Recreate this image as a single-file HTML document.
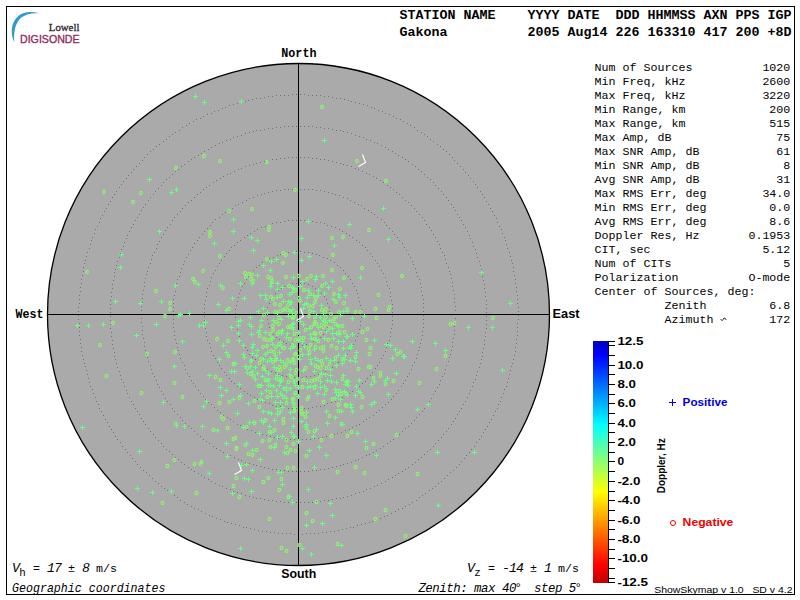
<!DOCTYPE html>
<html><head><meta charset="utf-8"><style>
html,body{margin:0;padding:0;background:#fff;overflow:hidden;}
text{white-space:pre;}
svg{display:block;}
.m{font-family:"Liberation Mono",monospace;}
.s{font-family:"Liberation Sans",sans-serif;}
.sf{font-family:"Liberation Serif",serif;}
</style></head><body>
<svg width="800" height="600" viewBox="0 0 800 600">
<rect x="0" y="0" width="800" height="600" fill="#fff"/>
<rect x="6.5" y="6.5" width="788" height="588" fill="none" stroke="#000" stroke-width="1"/>

<circle cx="298.5" cy="314.5" r="251.0" fill="#aaaaaa"/>
<path d="M300,283h1v1h-1zM304,283h1v1h-1zM308,284h1v1h-1zM312,286h1v1h-1zM315,288h1v1h-1zM318,290h1v1h-1zM321,293h1v1h-1zM324,296h1v1h-1zM326,299h1v1h-1zM327,303h1v1h-1zM329,307h1v1h-1zM329,311h1v1h-1zM329,315h1v1h-1zM329,319h1v1h-1zM328,323h1v1h-1zM327,327h1v1h-1zM325,330h1v1h-1zM323,334h1v1h-1zM320,337h1v1h-1zM317,339h1v1h-1zM313,341h1v1h-1zM310,343h1v1h-1zM306,344h1v1h-1zM302,345h1v1h-1zM298,345h1v1h-1zM294,345h1v1h-1zM290,344h1v1h-1zM286,343h1v1h-1zM283,341h1v1h-1zM279,339h1v1h-1zM276,337h1v1h-1zM273,334h1v1h-1zM271,330h1v1h-1zM269,327h1v1h-1zM268,323h1v1h-1zM267,319h1v1h-1zM267,315h1v1h-1zM267,311h1v1h-1zM267,307h1v1h-1zM269,303h1v1h-1zM270,299h1v1h-1zM272,296h1v1h-1zM275,293h1v1h-1zM278,290h1v1h-1zM281,288h1v1h-1zM284,286h1v1h-1zM288,284h1v1h-1zM292,283h1v1h-1zM296,283h1v1h-1zM300,251h1v1h-1zM304,252h1v1h-1zM308,252h1v1h-1zM312,253h1v1h-1zM316,254h1v1h-1zM319,255h1v1h-1zM323,257h1v1h-1zM327,258h1v1h-1zM330,260h1v1h-1zM334,262h1v1h-1zM337,265h1v1h-1zM340,267h1v1h-1zM343,270h1v1h-1zM345,273h1v1h-1zM348,276h1v1h-1zM350,279h1v1h-1zM352,283h1v1h-1zM354,286h1v1h-1zM356,290h1v1h-1zM357,293h1v1h-1zM358,297h1v1h-1zM359,301h1v1h-1zM360,305h1v1h-1zM361,309h1v1h-1zM361,313h1v1h-1zM361,317h1v1h-1zM360,321h1v1h-1zM360,325h1v1h-1zM359,329h1v1h-1zM358,333h1v1h-1zM357,336h1v1h-1zM355,340h1v1h-1zM353,344h1v1h-1zM351,347h1v1h-1zM349,350h1v1h-1zM347,354h1v1h-1zM344,357h1v1h-1zM341,359h1v1h-1zM338,362h1v1h-1zM335,365h1v1h-1zM332,367h1v1h-1zM329,369h1v1h-1zM325,371h1v1h-1zM321,372h1v1h-1zM318,374h1v1h-1zM314,375h1v1h-1zM310,376h1v1h-1zM306,376h1v1h-1zM302,377h1v1h-1zM298,377h1v1h-1zM294,377h1v1h-1zM290,376h1v1h-1zM286,376h1v1h-1zM282,375h1v1h-1zM278,374h1v1h-1zM275,372h1v1h-1zM271,371h1v1h-1zM267,369h1v1h-1zM264,367h1v1h-1zM261,365h1v1h-1zM258,362h1v1h-1zM255,359h1v1h-1zM252,357h1v1h-1zM249,354h1v1h-1zM247,350h1v1h-1zM245,347h1v1h-1zM243,344h1v1h-1zM241,340h1v1h-1zM239,336h1v1h-1zM238,333h1v1h-1zM237,329h1v1h-1zM236,325h1v1h-1zM236,321h1v1h-1zM235,317h1v1h-1zM235,313h1v1h-1zM235,309h1v1h-1zM236,305h1v1h-1zM237,301h1v1h-1zM238,297h1v1h-1zM239,293h1v1h-1zM240,290h1v1h-1zM242,286h1v1h-1zM244,283h1v1h-1zM246,279h1v1h-1zM248,276h1v1h-1zM251,273h1v1h-1zM253,270h1v1h-1zM256,267h1v1h-1zM259,265h1v1h-1zM262,262h1v1h-1zM266,260h1v1h-1zM269,258h1v1h-1zM273,257h1v1h-1zM277,255h1v1h-1zM280,254h1v1h-1zM284,253h1v1h-1zM288,252h1v1h-1zM292,252h1v1h-1zM296,251h1v1h-1zM300,220h1v1h-1zM304,220h1v1h-1zM308,220h1v1h-1zM312,221h1v1h-1zM316,222h1v1h-1zM320,222h1v1h-1zM324,223h1v1h-1zM327,225h1v1h-1zM331,226h1v1h-1zM335,227h1v1h-1zM339,229h1v1h-1zM342,231h1v1h-1zM346,233h1v1h-1zM349,235h1v1h-1zM352,237h1v1h-1zM356,240h1v1h-1zM359,242h1v1h-1zM362,245h1v1h-1zM365,247h1v1h-1zM367,250h1v1h-1zM370,253h1v1h-1zM372,256h1v1h-1zM375,260h1v1h-1zM377,263h1v1h-1zM379,266h1v1h-1zM381,270h1v1h-1zM383,273h1v1h-1zM385,277h1v1h-1zM386,281h1v1h-1zM387,285h1v1h-1zM389,288h1v1h-1zM390,292h1v1h-1zM390,296h1v1h-1zM391,300h1v1h-1zM392,304h1v1h-1zM392,308h1v1h-1zM392,312h1v1h-1zM392,316h1v1h-1zM392,320h1v1h-1zM392,324h1v1h-1zM391,328h1v1h-1zM390,332h1v1h-1zM390,336h1v1h-1zM389,340h1v1h-1zM387,343h1v1h-1zM386,347h1v1h-1zM385,351h1v1h-1zM383,355h1v1h-1zM381,358h1v1h-1zM379,362h1v1h-1zM377,365h1v1h-1zM375,368h1v1h-1zM372,372h1v1h-1zM370,375h1v1h-1zM367,378h1v1h-1zM365,381h1v1h-1zM362,383h1v1h-1zM359,386h1v1h-1zM356,388h1v1h-1zM352,391h1v1h-1zM349,393h1v1h-1zM346,395h1v1h-1zM342,397h1v1h-1zM339,399h1v1h-1zM335,401h1v1h-1zM331,402h1v1h-1zM327,403h1v1h-1zM324,405h1v1h-1zM320,406h1v1h-1zM316,406h1v1h-1zM312,407h1v1h-1zM308,408h1v1h-1zM304,408h1v1h-1zM300,408h1v1h-1zM296,408h1v1h-1zM292,408h1v1h-1zM288,408h1v1h-1zM284,407h1v1h-1zM280,406h1v1h-1zM276,406h1v1h-1zM272,405h1v1h-1zM269,403h1v1h-1zM265,402h1v1h-1zM261,401h1v1h-1zM257,399h1v1h-1zM254,397h1v1h-1zM250,395h1v1h-1zM247,393h1v1h-1zM244,391h1v1h-1zM240,388h1v1h-1zM237,386h1v1h-1zM234,383h1v1h-1zM231,381h1v1h-1zM229,378h1v1h-1zM226,375h1v1h-1zM224,372h1v1h-1zM221,368h1v1h-1zM219,365h1v1h-1zM217,362h1v1h-1zM215,358h1v1h-1zM213,355h1v1h-1zM211,351h1v1h-1zM210,347h1v1h-1zM209,343h1v1h-1zM207,340h1v1h-1zM206,336h1v1h-1zM206,332h1v1h-1zM205,328h1v1h-1zM204,324h1v1h-1zM204,320h1v1h-1zM204,316h1v1h-1zM204,312h1v1h-1zM204,308h1v1h-1zM204,304h1v1h-1zM205,300h1v1h-1zM206,296h1v1h-1zM206,292h1v1h-1zM207,288h1v1h-1zM209,285h1v1h-1zM210,281h1v1h-1zM211,277h1v1h-1zM213,273h1v1h-1zM215,270h1v1h-1zM217,266h1v1h-1zM219,263h1v1h-1zM221,260h1v1h-1zM224,256h1v1h-1zM226,253h1v1h-1zM229,250h1v1h-1zM231,247h1v1h-1zM234,245h1v1h-1zM237,242h1v1h-1zM240,240h1v1h-1zM244,237h1v1h-1zM247,235h1v1h-1zM250,233h1v1h-1zM254,231h1v1h-1zM257,229h1v1h-1zM261,227h1v1h-1zM265,226h1v1h-1zM269,225h1v1h-1zM272,223h1v1h-1zM276,222h1v1h-1zM280,222h1v1h-1zM284,221h1v1h-1zM288,220h1v1h-1zM292,220h1v1h-1zM296,220h1v1h-1zM300,189h1v1h-1zM304,189h1v1h-1zM308,189h1v1h-1zM312,189h1v1h-1zM316,190h1v1h-1zM320,190h1v1h-1zM324,191h1v1h-1zM328,192h1v1h-1zM332,193h1v1h-1zM335,194h1v1h-1zM339,195h1v1h-1zM343,197h1v1h-1zM347,198h1v1h-1zM350,200h1v1h-1zM354,202h1v1h-1zM358,204h1v1h-1zM361,205h1v1h-1zM364,208h1v1h-1zM368,210h1v1h-1zM371,212h1v1h-1zM374,214h1v1h-1zM377,217h1v1h-1zM381,219h1v1h-1zM384,222h1v1h-1zM386,225h1v1h-1zM389,228h1v1h-1zM392,231h1v1h-1zM394,234h1v1h-1zM397,237h1v1h-1zM399,240h1v1h-1zM402,243h1v1h-1zM404,247h1v1h-1zM406,250h1v1h-1zM408,254h1v1h-1zM410,257h1v1h-1zM412,261h1v1h-1zM413,264h1v1h-1zM415,268h1v1h-1zM416,272h1v1h-1zM417,276h1v1h-1zM419,279h1v1h-1zM420,283h1v1h-1zM421,287h1v1h-1zM421,291h1v1h-1zM422,295h1v1h-1zM423,299h1v1h-1zM423,303h1v1h-1zM423,307h1v1h-1zM423,311h1v1h-1zM423,315h1v1h-1zM423,319h1v1h-1zM423,323h1v1h-1zM423,327h1v1h-1zM422,331h1v1h-1zM422,335h1v1h-1zM421,339h1v1h-1zM420,343h1v1h-1zM419,347h1v1h-1zM418,350h1v1h-1zM417,354h1v1h-1zM416,358h1v1h-1zM414,362h1v1h-1zM412,365h1v1h-1zM411,369h1v1h-1zM409,373h1v1h-1zM407,376h1v1h-1zM405,380h1v1h-1zM403,383h1v1h-1zM401,386h1v1h-1zM398,390h1v1h-1zM396,393h1v1h-1zM393,396h1v1h-1zM391,399h1v1h-1zM388,402h1v1h-1zM385,404h1v1h-1zM382,407h1v1h-1zM379,410h1v1h-1zM376,412h1v1h-1zM373,415h1v1h-1zM369,417h1v1h-1zM366,419h1v1h-1zM363,421h1v1h-1zM359,424h1v1h-1zM356,425h1v1h-1zM352,427h1v1h-1zM349,429h1v1h-1zM345,430h1v1h-1zM341,432h1v1h-1zM337,433h1v1h-1zM334,434h1v1h-1zM330,435h1v1h-1zM326,436h1v1h-1zM322,437h1v1h-1zM318,438h1v1h-1zM314,438h1v1h-1zM310,439h1v1h-1zM306,439h1v1h-1zM302,439h1v1h-1zM298,440h1v1h-1zM294,439h1v1h-1zM290,439h1v1h-1zM286,439h1v1h-1zM282,438h1v1h-1zM278,438h1v1h-1zM274,437h1v1h-1zM270,436h1v1h-1zM266,435h1v1h-1zM262,434h1v1h-1zM259,433h1v1h-1zM255,432h1v1h-1zM251,430h1v1h-1zM247,429h1v1h-1zM244,427h1v1h-1zM240,425h1v1h-1zM237,424h1v1h-1zM233,421h1v1h-1zM230,419h1v1h-1zM227,417h1v1h-1zM223,415h1v1h-1zM220,412h1v1h-1zM217,410h1v1h-1zM214,407h1v1h-1zM211,404h1v1h-1zM208,402h1v1h-1zM205,399h1v1h-1zM203,396h1v1h-1zM200,393h1v1h-1zM198,390h1v1h-1zM195,386h1v1h-1zM193,383h1v1h-1zM191,380h1v1h-1zM189,376h1v1h-1zM187,373h1v1h-1zM185,369h1v1h-1zM184,365h1v1h-1zM182,362h1v1h-1zM180,358h1v1h-1zM179,354h1v1h-1zM178,350h1v1h-1zM177,347h1v1h-1zM176,343h1v1h-1zM175,339h1v1h-1zM174,335h1v1h-1zM174,331h1v1h-1zM173,327h1v1h-1zM173,323h1v1h-1zM173,319h1v1h-1zM173,315h1v1h-1zM173,311h1v1h-1zM173,307h1v1h-1zM173,303h1v1h-1zM173,299h1v1h-1zM174,295h1v1h-1zM175,291h1v1h-1zM175,287h1v1h-1zM176,283h1v1h-1zM177,279h1v1h-1zM179,276h1v1h-1zM180,272h1v1h-1zM181,268h1v1h-1zM183,264h1v1h-1zM184,261h1v1h-1zM186,257h1v1h-1zM188,254h1v1h-1zM190,250h1v1h-1zM192,247h1v1h-1zM194,243h1v1h-1zM197,240h1v1h-1zM199,237h1v1h-1zM202,234h1v1h-1zM204,231h1v1h-1zM207,228h1v1h-1zM210,225h1v1h-1zM212,222h1v1h-1zM215,219h1v1h-1zM219,217h1v1h-1zM222,214h1v1h-1zM225,212h1v1h-1zM228,210h1v1h-1zM232,208h1v1h-1zM235,205h1v1h-1zM238,204h1v1h-1zM242,202h1v1h-1zM246,200h1v1h-1zM249,198h1v1h-1zM253,197h1v1h-1zM257,195h1v1h-1zM261,194h1v1h-1zM264,193h1v1h-1zM268,192h1v1h-1zM272,191h1v1h-1zM276,190h1v1h-1zM280,190h1v1h-1zM284,189h1v1h-1zM288,189h1v1h-1zM292,189h1v1h-1zM296,189h1v1h-1zM300,157h1v1h-1zM304,157h1v1h-1zM308,157h1v1h-1zM312,158h1v1h-1zM316,158h1v1h-1zM320,159h1v1h-1zM324,159h1v1h-1zM328,160h1v1h-1zM332,161h1v1h-1zM336,162h1v1h-1zM340,163h1v1h-1zM343,164h1v1h-1zM347,165h1v1h-1zM351,166h1v1h-1zM355,168h1v1h-1zM358,169h1v1h-1zM362,171h1v1h-1zM366,173h1v1h-1zM369,174h1v1h-1zM373,176h1v1h-1zM376,178h1v1h-1zM380,180h1v1h-1zM383,182h1v1h-1zM387,185h1v1h-1zM390,187h1v1h-1zM393,189h1v1h-1zM396,192h1v1h-1zM399,194h1v1h-1zM402,197h1v1h-1zM405,200h1v1h-1zM408,202h1v1h-1zM411,205h1v1h-1zM414,208h1v1h-1zM416,211h1v1h-1zM419,214h1v1h-1zM422,217h1v1h-1zM424,220h1v1h-1zM426,224h1v1h-1zM429,227h1v1h-1zM431,230h1v1h-1zM433,234h1v1h-1zM435,237h1v1h-1zM437,241h1v1h-1zM439,244h1v1h-1zM440,248h1v1h-1zM442,252h1v1h-1zM444,255h1v1h-1zM445,259h1v1h-1zM446,263h1v1h-1zM448,267h1v1h-1zM449,271h1v1h-1zM450,274h1v1h-1zM451,278h1v1h-1zM452,282h1v1h-1zM452,286h1v1h-1zM453,290h1v1h-1zM454,294h1v1h-1zM454,298h1v1h-1zM454,302h1v1h-1zM455,306h1v1h-1zM455,310h1v1h-1zM455,314h1v1h-1zM455,318h1v1h-1zM455,322h1v1h-1zM454,326h1v1h-1zM454,330h1v1h-1zM454,334h1v1h-1zM453,338h1v1h-1zM452,342h1v1h-1zM452,346h1v1h-1zM451,350h1v1h-1zM450,354h1v1h-1zM449,357h1v1h-1zM448,361h1v1h-1zM446,365h1v1h-1zM445,369h1v1h-1zM444,373h1v1h-1zM442,376h1v1h-1zM440,380h1v1h-1zM439,384h1v1h-1zM437,387h1v1h-1zM435,391h1v1h-1zM433,394h1v1h-1zM431,398h1v1h-1zM429,401h1v1h-1zM426,404h1v1h-1zM424,408h1v1h-1zM422,411h1v1h-1zM419,414h1v1h-1zM416,417h1v1h-1zM414,420h1v1h-1zM411,423h1v1h-1zM408,426h1v1h-1zM405,428h1v1h-1zM402,431h1v1h-1zM399,434h1v1h-1zM396,436h1v1h-1zM393,439h1v1h-1zM390,441h1v1h-1zM387,443h1v1h-1zM383,446h1v1h-1zM380,448h1v1h-1zM376,450h1v1h-1zM373,452h1v1h-1zM369,454h1v1h-1zM366,455h1v1h-1zM362,457h1v1h-1zM358,459h1v1h-1zM355,460h1v1h-1zM351,462h1v1h-1zM347,463h1v1h-1zM343,464h1v1h-1zM340,465h1v1h-1zM336,466h1v1h-1zM332,467h1v1h-1zM328,468h1v1h-1zM324,469h1v1h-1zM320,469h1v1h-1zM316,470h1v1h-1zM312,470h1v1h-1zM308,471h1v1h-1zM304,471h1v1h-1zM300,471h1v1h-1zM296,471h1v1h-1zM292,471h1v1h-1zM288,471h1v1h-1zM284,470h1v1h-1zM280,470h1v1h-1zM276,469h1v1h-1zM272,469h1v1h-1zM268,468h1v1h-1zM264,467h1v1h-1zM260,466h1v1h-1zM256,465h1v1h-1zM253,464h1v1h-1zM249,463h1v1h-1zM245,462h1v1h-1zM241,460h1v1h-1zM238,459h1v1h-1zM234,457h1v1h-1zM230,455h1v1h-1zM227,454h1v1h-1zM223,452h1v1h-1zM220,450h1v1h-1zM216,448h1v1h-1zM213,446h1v1h-1zM209,443h1v1h-1zM206,441h1v1h-1zM203,439h1v1h-1zM200,436h1v1h-1zM197,434h1v1h-1zM194,431h1v1h-1zM191,428h1v1h-1zM188,426h1v1h-1zM185,423h1v1h-1zM182,420h1v1h-1zM180,417h1v1h-1zM177,414h1v1h-1zM174,411h1v1h-1zM172,408h1v1h-1zM170,404h1v1h-1zM167,401h1v1h-1zM165,398h1v1h-1zM163,394h1v1h-1zM161,391h1v1h-1zM159,387h1v1h-1zM157,384h1v1h-1zM156,380h1v1h-1zM154,376h1v1h-1zM152,373h1v1h-1zM151,369h1v1h-1zM150,365h1v1h-1zM148,361h1v1h-1zM147,357h1v1h-1zM146,354h1v1h-1zM145,350h1v1h-1zM144,346h1v1h-1zM144,342h1v1h-1zM143,338h1v1h-1zM142,334h1v1h-1zM142,330h1v1h-1zM142,326h1v1h-1zM141,322h1v1h-1zM141,318h1v1h-1zM141,314h1v1h-1zM141,310h1v1h-1zM141,306h1v1h-1zM142,302h1v1h-1zM142,298h1v1h-1zM142,294h1v1h-1zM143,290h1v1h-1zM144,286h1v1h-1zM144,282h1v1h-1zM145,278h1v1h-1zM146,274h1v1h-1zM147,271h1v1h-1zM148,267h1v1h-1zM150,263h1v1h-1zM151,259h1v1h-1zM152,255h1v1h-1zM154,252h1v1h-1zM156,248h1v1h-1zM157,244h1v1h-1zM159,241h1v1h-1zM161,237h1v1h-1zM163,234h1v1h-1zM165,230h1v1h-1zM167,227h1v1h-1zM170,224h1v1h-1zM172,220h1v1h-1zM174,217h1v1h-1zM177,214h1v1h-1zM180,211h1v1h-1zM182,208h1v1h-1zM185,205h1v1h-1zM188,202h1v1h-1zM191,200h1v1h-1zM194,197h1v1h-1zM197,194h1v1h-1zM200,192h1v1h-1zM203,189h1v1h-1zM206,187h1v1h-1zM209,185h1v1h-1zM213,182h1v1h-1zM216,180h1v1h-1zM220,178h1v1h-1zM223,176h1v1h-1zM227,174h1v1h-1zM230,173h1v1h-1zM234,171h1v1h-1zM238,169h1v1h-1zM241,168h1v1h-1zM245,166h1v1h-1zM249,165h1v1h-1zM253,164h1v1h-1zM256,163h1v1h-1zM260,162h1v1h-1zM264,161h1v1h-1zM268,160h1v1h-1zM272,159h1v1h-1zM276,159h1v1h-1zM280,158h1v1h-1zM284,158h1v1h-1zM288,157h1v1h-1zM292,157h1v1h-1zM296,157h1v1h-1zM300,126h1v1h-1zM304,126h1v1h-1zM308,126h1v1h-1zM312,126h1v1h-1zM316,127h1v1h-1zM320,127h1v1h-1zM324,128h1v1h-1zM328,128h1v1h-1zM332,129h1v1h-1zM336,130h1v1h-1zM340,130h1v1h-1zM343,131h1v1h-1zM347,132h1v1h-1zM351,133h1v1h-1zM355,135h1v1h-1zM359,136h1v1h-1zM363,137h1v1h-1zM366,139h1v1h-1zM370,140h1v1h-1zM374,142h1v1h-1zM377,143h1v1h-1zM381,145h1v1h-1zM385,147h1v1h-1zM388,149h1v1h-1zM392,151h1v1h-1zM395,153h1v1h-1zM398,155h1v1h-1zM402,157h1v1h-1zM405,159h1v1h-1zM408,161h1v1h-1zM412,164h1v1h-1zM415,166h1v1h-1zM418,169h1v1h-1zM421,171h1v1h-1zM424,174h1v1h-1zM427,177h1v1h-1zM430,179h1v1h-1zM433,182h1v1h-1zM435,185h1v1h-1zM438,188h1v1h-1zM441,191h1v1h-1zM443,194h1v1h-1zM446,197h1v1h-1zM448,200h1v1h-1zM451,204h1v1h-1zM453,207h1v1h-1zM455,210h1v1h-1zM457,214h1v1h-1zM459,217h1v1h-1zM461,220h1v1h-1zM463,224h1v1h-1zM465,227h1v1h-1zM467,231h1v1h-1zM469,235h1v1h-1zM470,238h1v1h-1zM472,242h1v1h-1zM473,246h1v1h-1zM475,249h1v1h-1zM476,253h1v1h-1zM477,257h1v1h-1zM479,261h1v1h-1zM480,265h1v1h-1zM481,269h1v1h-1zM482,272h1v1h-1zM482,276h1v1h-1zM483,280h1v1h-1zM484,284h1v1h-1zM484,288h1v1h-1zM485,292h1v1h-1zM485,296h1v1h-1zM486,300h1v1h-1zM486,304h1v1h-1zM486,308h1v1h-1zM486,312h1v1h-1zM486,316h1v1h-1zM486,320h1v1h-1zM486,324h1v1h-1zM486,328h1v1h-1zM485,332h1v1h-1zM485,336h1v1h-1zM484,340h1v1h-1zM484,344h1v1h-1zM483,348h1v1h-1zM482,352h1v1h-1zM482,356h1v1h-1zM481,359h1v1h-1zM480,363h1v1h-1zM479,367h1v1h-1zM477,371h1v1h-1zM476,375h1v1h-1zM475,379h1v1h-1zM473,382h1v1h-1zM472,386h1v1h-1zM470,390h1v1h-1zM469,393h1v1h-1zM467,397h1v1h-1zM465,401h1v1h-1zM463,404h1v1h-1zM461,408h1v1h-1zM459,411h1v1h-1zM457,414h1v1h-1zM455,418h1v1h-1zM453,421h1v1h-1zM451,424h1v1h-1zM448,428h1v1h-1zM446,431h1v1h-1zM443,434h1v1h-1zM441,437h1v1h-1zM438,440h1v1h-1zM435,443h1v1h-1zM433,446h1v1h-1zM430,449h1v1h-1zM427,451h1v1h-1zM424,454h1v1h-1zM421,457h1v1h-1zM418,459h1v1h-1zM415,462h1v1h-1zM412,464h1v1h-1zM408,467h1v1h-1zM405,469h1v1h-1zM402,471h1v1h-1zM398,473h1v1h-1zM395,475h1v1h-1zM392,477h1v1h-1zM388,479h1v1h-1zM385,481h1v1h-1zM381,483h1v1h-1zM377,485h1v1h-1zM374,486h1v1h-1zM370,488h1v1h-1zM366,489h1v1h-1zM363,491h1v1h-1zM359,492h1v1h-1zM355,493h1v1h-1zM351,495h1v1h-1zM347,496h1v1h-1zM343,497h1v1h-1zM340,498h1v1h-1zM336,498h1v1h-1zM332,499h1v1h-1zM328,500h1v1h-1zM324,500h1v1h-1zM320,501h1v1h-1zM316,501h1v1h-1zM312,502h1v1h-1zM308,502h1v1h-1zM304,502h1v1h-1zM300,502h1v1h-1zM296,502h1v1h-1zM292,502h1v1h-1zM288,502h1v1h-1zM284,502h1v1h-1zM280,501h1v1h-1zM276,501h1v1h-1zM272,500h1v1h-1zM268,500h1v1h-1zM264,499h1v1h-1zM260,498h1v1h-1zM256,498h1v1h-1zM253,497h1v1h-1zM249,496h1v1h-1zM245,495h1v1h-1zM241,493h1v1h-1zM237,492h1v1h-1zM233,491h1v1h-1zM230,489h1v1h-1zM226,488h1v1h-1zM222,486h1v1h-1zM219,485h1v1h-1zM215,483h1v1h-1zM211,481h1v1h-1zM208,479h1v1h-1zM204,477h1v1h-1zM201,475h1v1h-1zM198,473h1v1h-1zM194,471h1v1h-1zM191,469h1v1h-1zM188,467h1v1h-1zM184,464h1v1h-1zM181,462h1v1h-1zM178,459h1v1h-1zM175,457h1v1h-1zM172,454h1v1h-1zM169,451h1v1h-1zM166,449h1v1h-1zM163,446h1v1h-1zM161,443h1v1h-1zM158,440h1v1h-1zM155,437h1v1h-1zM153,434h1v1h-1zM150,431h1v1h-1zM148,428h1v1h-1zM145,424h1v1h-1zM143,421h1v1h-1zM141,418h1v1h-1zM139,414h1v1h-1zM137,411h1v1h-1zM135,408h1v1h-1zM133,404h1v1h-1zM131,401h1v1h-1zM129,397h1v1h-1zM127,393h1v1h-1zM126,390h1v1h-1zM124,386h1v1h-1zM123,382h1v1h-1zM121,379h1v1h-1zM120,375h1v1h-1zM119,371h1v1h-1zM117,367h1v1h-1zM116,363h1v1h-1zM115,359h1v1h-1zM114,356h1v1h-1zM114,352h1v1h-1zM113,348h1v1h-1zM112,344h1v1h-1zM112,340h1v1h-1zM111,336h1v1h-1zM111,332h1v1h-1zM110,328h1v1h-1zM110,324h1v1h-1zM110,320h1v1h-1zM110,316h1v1h-1zM110,312h1v1h-1zM110,308h1v1h-1zM110,304h1v1h-1zM110,300h1v1h-1zM111,296h1v1h-1zM111,292h1v1h-1zM112,288h1v1h-1zM112,284h1v1h-1zM113,280h1v1h-1zM114,276h1v1h-1zM114,272h1v1h-1zM115,269h1v1h-1zM116,265h1v1h-1zM117,261h1v1h-1zM119,257h1v1h-1zM120,253h1v1h-1zM121,249h1v1h-1zM123,246h1v1h-1zM124,242h1v1h-1zM126,238h1v1h-1zM127,235h1v1h-1zM129,231h1v1h-1zM131,227h1v1h-1zM133,224h1v1h-1zM135,220h1v1h-1zM137,217h1v1h-1zM139,214h1v1h-1zM141,210h1v1h-1zM143,207h1v1h-1zM145,204h1v1h-1zM148,200h1v1h-1zM150,197h1v1h-1zM153,194h1v1h-1zM155,191h1v1h-1zM158,188h1v1h-1zM161,185h1v1h-1zM163,182h1v1h-1zM166,179h1v1h-1zM169,177h1v1h-1zM172,174h1v1h-1zM175,171h1v1h-1zM178,169h1v1h-1zM181,166h1v1h-1zM184,164h1v1h-1zM188,161h1v1h-1zM191,159h1v1h-1zM194,157h1v1h-1zM198,155h1v1h-1zM201,153h1v1h-1zM204,151h1v1h-1zM208,149h1v1h-1zM211,147h1v1h-1zM215,145h1v1h-1zM219,143h1v1h-1zM222,142h1v1h-1zM226,140h1v1h-1zM230,139h1v1h-1zM233,137h1v1h-1zM237,136h1v1h-1zM241,135h1v1h-1zM245,133h1v1h-1zM249,132h1v1h-1zM253,131h1v1h-1zM256,130h1v1h-1zM260,130h1v1h-1zM264,129h1v1h-1zM268,128h1v1h-1zM272,128h1v1h-1zM276,127h1v1h-1zM280,127h1v1h-1zM284,126h1v1h-1zM288,126h1v1h-1zM292,126h1v1h-1zM296,126h1v1h-1zM300,94h1v1h-1zM304,94h1v1h-1zM308,95h1v1h-1zM312,95h1v1h-1zM316,95h1v1h-1zM320,95h1v1h-1zM324,96h1v1h-1zM328,96h1v1h-1zM332,97h1v1h-1zM336,98h1v1h-1zM340,98h1v1h-1zM344,99h1v1h-1zM348,100h1v1h-1zM351,101h1v1h-1zM355,102h1v1h-1zM359,103h1v1h-1zM363,104h1v1h-1zM367,105h1v1h-1zM371,107h1v1h-1zM374,108h1v1h-1zM378,110h1v1h-1zM382,111h1v1h-1zM385,113h1v1h-1zM389,114h1v1h-1zM393,116h1v1h-1zM396,118h1v1h-1zM400,119h1v1h-1zM403,121h1v1h-1zM407,123h1v1h-1zM410,125h1v1h-1zM414,127h1v1h-1zM417,130h1v1h-1zM421,132h1v1h-1zM424,134h1v1h-1zM427,136h1v1h-1zM430,139h1v1h-1zM433,141h1v1h-1zM437,144h1v1h-1zM440,146h1v1h-1zM443,149h1v1h-1zM446,151h1v1h-1zM449,154h1v1h-1zM452,157h1v1h-1zM454,160h1v1h-1zM457,163h1v1h-1zM460,166h1v1h-1zM463,169h1v1h-1zM465,172h1v1h-1zM468,175h1v1h-1zM470,178h1v1h-1zM473,181h1v1h-1zM475,184h1v1h-1zM477,187h1v1h-1zM480,191h1v1h-1zM482,194h1v1h-1zM484,197h1v1h-1zM486,201h1v1h-1zM488,204h1v1h-1zM490,208h1v1h-1zM492,211h1v1h-1zM494,215h1v1h-1zM496,218h1v1h-1zM497,222h1v1h-1zM499,226h1v1h-1zM501,229h1v1h-1zM502,233h1v1h-1zM504,237h1v1h-1zM505,240h1v1h-1zM506,244h1v1h-1zM507,248h1v1h-1zM509,252h1v1h-1zM510,256h1v1h-1zM511,260h1v1h-1zM512,263h1v1h-1zM513,267h1v1h-1zM513,271h1v1h-1zM514,275h1v1h-1zM515,279h1v1h-1zM515,283h1v1h-1zM516,287h1v1h-1zM516,291h1v1h-1zM517,295h1v1h-1zM517,299h1v1h-1zM517,303h1v1h-1zM518,307h1v1h-1zM518,311h1v1h-1zM518,315h1v1h-1zM518,319h1v1h-1zM517,323h1v1h-1zM517,327h1v1h-1zM517,331h1v1h-1zM517,335h1v1h-1zM516,339h1v1h-1zM516,343h1v1h-1zM515,347h1v1h-1zM515,351h1v1h-1zM514,355h1v1h-1zM513,359h1v1h-1zM512,363h1v1h-1zM511,366h1v1h-1zM510,370h1v1h-1zM509,374h1v1h-1zM508,378h1v1h-1zM507,382h1v1h-1zM506,386h1v1h-1zM504,389h1v1h-1zM503,393h1v1h-1zM501,397h1v1h-1zM500,401h1v1h-1zM498,404h1v1h-1zM497,408h1v1h-1zM495,411h1v1h-1zM493,415h1v1h-1zM491,419h1v1h-1zM489,422h1v1h-1zM487,426h1v1h-1zM485,429h1v1h-1zM483,432h1v1h-1zM481,436h1v1h-1zM479,439h1v1h-1zM476,442h1v1h-1zM474,446h1v1h-1zM471,449h1v1h-1zM469,452h1v1h-1zM466,455h1v1h-1zM464,458h1v1h-1zM461,461h1v1h-1zM459,464h1v1h-1zM456,467h1v1h-1zM453,470h1v1h-1zM450,472h1v1h-1zM447,475h1v1h-1zM444,478h1v1h-1zM441,481h1v1h-1zM438,483h1v1h-1zM435,486h1v1h-1zM432,488h1v1h-1zM429,490h1v1h-1zM425,493h1v1h-1zM422,495h1v1h-1zM419,497h1v1h-1zM416,500h1v1h-1zM412,502h1v1h-1zM409,504h1v1h-1zM405,506h1v1h-1zM402,508h1v1h-1zM398,509h1v1h-1zM395,511h1v1h-1zM391,513h1v1h-1zM387,515h1v1h-1zM384,516h1v1h-1zM380,518h1v1h-1zM376,519h1v1h-1zM372,521h1v1h-1zM369,522h1v1h-1zM365,523h1v1h-1zM361,524h1v1h-1zM357,525h1v1h-1zM353,527h1v1h-1zM350,527h1v1h-1zM346,528h1v1h-1zM342,529h1v1h-1zM338,530h1v1h-1zM334,531h1v1h-1zM330,531h1v1h-1zM326,532h1v1h-1zM322,532h1v1h-1zM318,533h1v1h-1zM314,533h1v1h-1zM310,533h1v1h-1zM306,533h1v1h-1zM302,534h1v1h-1zM298,534h1v1h-1zM294,534h1v1h-1zM290,533h1v1h-1zM286,533h1v1h-1zM282,533h1v1h-1zM278,533h1v1h-1zM274,532h1v1h-1zM270,532h1v1h-1zM266,531h1v1h-1zM262,531h1v1h-1zM258,530h1v1h-1zM254,529h1v1h-1zM250,528h1v1h-1zM246,527h1v1h-1zM243,527h1v1h-1zM239,525h1v1h-1zM235,524h1v1h-1zM231,523h1v1h-1zM227,522h1v1h-1zM224,521h1v1h-1zM220,519h1v1h-1zM216,518h1v1h-1zM212,516h1v1h-1zM209,515h1v1h-1zM205,513h1v1h-1zM201,511h1v1h-1zM198,509h1v1h-1zM194,508h1v1h-1zM191,506h1v1h-1zM187,504h1v1h-1zM184,502h1v1h-1zM180,500h1v1h-1zM177,497h1v1h-1zM174,495h1v1h-1zM171,493h1v1h-1zM167,490h1v1h-1zM164,488h1v1h-1zM161,486h1v1h-1zM158,483h1v1h-1zM155,481h1v1h-1zM152,478h1v1h-1zM149,475h1v1h-1zM146,472h1v1h-1zM143,470h1v1h-1zM140,467h1v1h-1zM137,464h1v1h-1zM135,461h1v1h-1zM132,458h1v1h-1zM130,455h1v1h-1zM127,452h1v1h-1zM125,449h1v1h-1zM122,446h1v1h-1zM120,442h1v1h-1zM117,439h1v1h-1zM115,436h1v1h-1zM113,432h1v1h-1zM111,429h1v1h-1zM109,426h1v1h-1zM107,422h1v1h-1zM105,419h1v1h-1zM103,415h1v1h-1zM101,411h1v1h-1zM99,408h1v1h-1zM98,404h1v1h-1zM96,401h1v1h-1zM95,397h1v1h-1zM93,393h1v1h-1zM92,389h1v1h-1zM90,386h1v1h-1zM89,382h1v1h-1zM88,378h1v1h-1zM87,374h1v1h-1zM86,370h1v1h-1zM85,366h1v1h-1zM84,363h1v1h-1zM83,359h1v1h-1zM82,355h1v1h-1zM81,351h1v1h-1zM81,347h1v1h-1zM80,343h1v1h-1zM80,339h1v1h-1zM79,335h1v1h-1zM79,331h1v1h-1zM79,327h1v1h-1zM79,323h1v1h-1zM78,319h1v1h-1zM78,315h1v1h-1zM78,311h1v1h-1zM78,307h1v1h-1zM79,303h1v1h-1zM79,299h1v1h-1zM79,295h1v1h-1zM80,291h1v1h-1zM80,287h1v1h-1zM81,283h1v1h-1zM81,279h1v1h-1zM82,275h1v1h-1zM83,271h1v1h-1zM83,267h1v1h-1zM84,263h1v1h-1zM85,260h1v1h-1zM86,256h1v1h-1zM87,252h1v1h-1zM89,248h1v1h-1zM90,244h1v1h-1zM91,240h1v1h-1zM92,237h1v1h-1zM94,233h1v1h-1zM95,229h1v1h-1zM97,226h1v1h-1zM99,222h1v1h-1zM100,218h1v1h-1zM102,215h1v1h-1zM104,211h1v1h-1zM106,208h1v1h-1zM108,204h1v1h-1zM110,201h1v1h-1zM112,197h1v1h-1zM114,194h1v1h-1zM116,191h1v1h-1zM119,187h1v1h-1zM121,184h1v1h-1zM123,181h1v1h-1zM126,178h1v1h-1zM128,175h1v1h-1zM131,172h1v1h-1zM133,169h1v1h-1zM136,166h1v1h-1zM139,163h1v1h-1zM142,160h1v1h-1zM144,157h1v1h-1zM147,154h1v1h-1zM150,151h1v1h-1zM153,149h1v1h-1zM156,146h1v1h-1zM159,144h1v1h-1zM163,141h1v1h-1zM166,139h1v1h-1zM169,136h1v1h-1zM172,134h1v1h-1zM175,132h1v1h-1zM179,130h1v1h-1zM182,127h1v1h-1zM186,125h1v1h-1zM189,123h1v1h-1zM193,121h1v1h-1zM196,119h1v1h-1zM200,118h1v1h-1zM203,116h1v1h-1zM207,114h1v1h-1zM211,113h1v1h-1zM214,111h1v1h-1zM218,110h1v1h-1zM222,108h1v1h-1zM225,107h1v1h-1zM229,105h1v1h-1zM233,104h1v1h-1zM237,103h1v1h-1zM241,102h1v1h-1zM245,101h1v1h-1zM248,100h1v1h-1zM252,99h1v1h-1zM256,98h1v1h-1zM260,98h1v1h-1zM264,97h1v1h-1zM268,96h1v1h-1zM272,96h1v1h-1zM276,95h1v1h-1zM280,95h1v1h-1zM284,95h1v1h-1zM288,95h1v1h-1zM292,94h1v1h-1zM296,94h1v1h-1z" fill="#6e6e6e" shape-rendering="crispEdges"/>
<line x1="298.5" y1="63.5" x2="298.5" y2="565.5" stroke="#000" stroke-width="1"/>
<line x1="47.5" y1="314.5" x2="549.5" y2="314.5" stroke="#000" stroke-width="1"/>
<g fill="none" stroke="#8cf56e" stroke-width="1.15"><ellipse cx="322" cy="107" rx="1.35" ry="1.55" transform="rotate(25 322 107)"/><ellipse cx="204" cy="156" rx="1.35" ry="1.55" transform="rotate(25 204 156)"/><ellipse cx="220" cy="161" rx="1.35" ry="1.55" transform="rotate(25 220 161)"/><ellipse cx="176" cy="168" rx="1.35" ry="1.55" transform="rotate(25 176 168)"/><ellipse cx="104" cy="192" rx="1.35" ry="1.55" transform="rotate(25 104 192)"/><ellipse cx="141" cy="193" rx="1.35" ry="1.55" transform="rotate(25 141 193)"/><ellipse cx="133" cy="202" rx="1.35" ry="1.55" transform="rotate(25 133 202)"/><ellipse cx="229" cy="211" rx="1.35" ry="1.55" transform="rotate(25 229 211)"/><ellipse cx="267" cy="162" rx="1.35" ry="1.55" transform="rotate(25 267 162)"/><ellipse cx="357" cy="161" rx="1.35" ry="1.55" transform="rotate(25 357 161)"/><ellipse cx="386" cy="181" rx="1.35" ry="1.55" transform="rotate(25 386 181)"/><ellipse cx="295" cy="190" rx="1.35" ry="1.55" transform="rotate(25 295 190)"/><ellipse cx="252" cy="209" rx="1.35" ry="1.55" transform="rotate(25 252 209)"/><ellipse cx="87" cy="272" rx="1.35" ry="1.55" transform="rotate(25 87 272)"/><ellipse cx="193" cy="279" rx="1.35" ry="1.55" transform="rotate(25 193 279)"/><ellipse cx="195" cy="282" rx="1.35" ry="1.55" transform="rotate(25 195 282)"/><ellipse cx="210" cy="232" rx="1.35" ry="1.55" transform="rotate(25 210 232)"/><ellipse cx="210" cy="236" rx="1.35" ry="1.55" transform="rotate(25 210 236)"/><ellipse cx="269" cy="227" rx="1.35" ry="1.55" transform="rotate(25 269 227)"/><ellipse cx="269" cy="230" rx="1.35" ry="1.55" transform="rotate(25 269 230)"/><ellipse cx="220" cy="256" rx="1.35" ry="1.55" transform="rotate(25 220 256)"/><ellipse cx="203" cy="271" rx="1.35" ry="1.55" transform="rotate(25 203 271)"/><ellipse cx="283" cy="253" rx="1.35" ry="1.55" transform="rotate(25 283 253)"/><ellipse cx="286" cy="255" rx="1.35" ry="1.55" transform="rotate(25 286 255)"/><ellipse cx="267" cy="259" rx="1.35" ry="1.55" transform="rotate(25 267 259)"/><ellipse cx="283" cy="263" rx="1.35" ry="1.55" transform="rotate(25 283 263)"/><ellipse cx="245" cy="273" rx="1.35" ry="1.55" transform="rotate(25 245 273)"/><ellipse cx="246" cy="277" rx="1.35" ry="1.55" transform="rotate(25 246 277)"/><ellipse cx="249" cy="274" rx="1.35" ry="1.55" transform="rotate(25 249 274)"/><ellipse cx="252" cy="275" rx="1.35" ry="1.55" transform="rotate(25 252 275)"/><ellipse cx="268" cy="277" rx="1.35" ry="1.55" transform="rotate(25 268 277)"/><ellipse cx="271" cy="278" rx="1.35" ry="1.55" transform="rotate(25 271 278)"/><ellipse cx="286" cy="277" rx="1.35" ry="1.55" transform="rotate(25 286 277)"/><ellipse cx="251" cy="279" rx="1.35" ry="1.55" transform="rotate(25 251 279)"/><ellipse cx="369" cy="230" rx="1.35" ry="1.55" transform="rotate(25 369 230)"/><ellipse cx="332" cy="238" rx="1.35" ry="1.55" transform="rotate(25 332 238)"/><ellipse cx="343" cy="237" rx="1.35" ry="1.55" transform="rotate(25 343 237)"/><ellipse cx="333" cy="255" rx="1.35" ry="1.55" transform="rotate(25 333 255)"/><ellipse cx="362" cy="268" rx="1.35" ry="1.55" transform="rotate(25 362 268)"/><ellipse cx="332" cy="270" rx="1.35" ry="1.55" transform="rotate(25 332 270)"/><ellipse cx="299" cy="276" rx="1.35" ry="1.55" transform="rotate(25 299 276)"/><ellipse cx="311" cy="276" rx="1.35" ry="1.55" transform="rotate(25 311 276)"/><ellipse cx="323" cy="276" rx="1.35" ry="1.55" transform="rotate(25 323 276)"/><ellipse cx="307" cy="279" rx="1.35" ry="1.55" transform="rotate(25 307 279)"/><ellipse cx="344" cy="278" rx="1.35" ry="1.55" transform="rotate(25 344 278)"/><ellipse cx="402" cy="276" rx="1.35" ry="1.55" transform="rotate(25 402 276)"/><ellipse cx="493" cy="318" rx="1.35" ry="1.55" transform="rotate(25 493 318)"/><ellipse cx="113" cy="323" rx="1.35" ry="1.55" transform="rotate(25 113 323)"/><ellipse cx="100" cy="345" rx="1.35" ry="1.55" transform="rotate(25 100 345)"/><ellipse cx="147" cy="354" rx="1.35" ry="1.55" transform="rotate(25 147 354)"/><ellipse cx="223" cy="288" rx="1.35" ry="1.55" transform="rotate(25 223 288)"/><ellipse cx="156" cy="291" rx="1.35" ry="1.55" transform="rotate(25 156 291)"/><ellipse cx="170" cy="303" rx="1.35" ry="1.55" transform="rotate(25 170 303)"/><ellipse cx="170" cy="309" rx="1.35" ry="1.55" transform="rotate(25 170 309)"/><ellipse cx="229" cy="309" rx="1.35" ry="1.55" transform="rotate(25 229 309)"/><ellipse cx="217" cy="339" rx="1.35" ry="1.55" transform="rotate(25 217 339)"/><ellipse cx="228" cy="341" rx="1.35" ry="1.55" transform="rotate(25 228 341)"/><ellipse cx="175" cy="352" rx="1.35" ry="1.55" transform="rotate(25 175 352)"/><ellipse cx="165" cy="316" rx="1.35" ry="1.55" transform="rotate(25 165 316)"/><ellipse cx="253" cy="281" rx="1.35" ry="1.55" transform="rotate(25 253 281)"/><ellipse cx="272" cy="281" rx="1.35" ry="1.55" transform="rotate(25 272 281)"/><ellipse cx="289" cy="286" rx="1.35" ry="1.55" transform="rotate(25 289 286)"/><ellipse cx="271" cy="297" rx="1.35" ry="1.55" transform="rotate(25 271 297)"/><ellipse cx="273" cy="299" rx="1.35" ry="1.55" transform="rotate(25 273 299)"/><ellipse cx="281" cy="296" rx="1.35" ry="1.55" transform="rotate(25 281 296)"/><ellipse cx="275" cy="304" rx="1.35" ry="1.55" transform="rotate(25 275 304)"/><ellipse cx="280" cy="305" rx="1.35" ry="1.55" transform="rotate(25 280 305)"/><ellipse cx="288" cy="305" rx="1.35" ry="1.55" transform="rotate(25 288 305)"/><ellipse cx="264" cy="315" rx="1.35" ry="1.55" transform="rotate(25 264 315)"/><ellipse cx="275" cy="312" rx="1.35" ry="1.55" transform="rotate(25 275 312)"/><ellipse cx="283" cy="310" rx="1.35" ry="1.55" transform="rotate(25 283 310)"/><ellipse cx="285" cy="309" rx="1.35" ry="1.55" transform="rotate(25 285 309)"/><ellipse cx="291" cy="312" rx="1.35" ry="1.55" transform="rotate(25 291 312)"/><ellipse cx="279" cy="318" rx="1.35" ry="1.55" transform="rotate(25 279 318)"/><ellipse cx="293" cy="318" rx="1.35" ry="1.55" transform="rotate(25 293 318)"/><ellipse cx="322" cy="286" rx="1.35" ry="1.55" transform="rotate(25 322 286)"/><ellipse cx="340" cy="289" rx="1.35" ry="1.55" transform="rotate(25 340 289)"/><ellipse cx="296" cy="290" rx="1.35" ry="1.55" transform="rotate(25 296 290)"/><ellipse cx="304" cy="290" rx="1.35" ry="1.55" transform="rotate(25 304 290)"/><ellipse cx="334" cy="294" rx="1.35" ry="1.55" transform="rotate(25 334 294)"/><ellipse cx="336" cy="302" rx="1.35" ry="1.55" transform="rotate(25 336 302)"/><ellipse cx="344" cy="303" rx="1.35" ry="1.55" transform="rotate(25 344 303)"/><ellipse cx="310" cy="294" rx="1.35" ry="1.55" transform="rotate(25 310 294)"/><ellipse cx="316" cy="298" rx="1.35" ry="1.55" transform="rotate(25 316 298)"/><ellipse cx="315" cy="302" rx="1.35" ry="1.55" transform="rotate(25 315 302)"/><ellipse cx="299" cy="298" rx="1.35" ry="1.55" transform="rotate(25 299 298)"/><ellipse cx="300" cy="301" rx="1.35" ry="1.55" transform="rotate(25 300 301)"/><ellipse cx="309" cy="306" rx="1.35" ry="1.55" transform="rotate(25 309 306)"/><ellipse cx="313" cy="306" rx="1.35" ry="1.55" transform="rotate(25 313 306)"/><ellipse cx="310" cy="311" rx="1.35" ry="1.55" transform="rotate(25 310 311)"/><ellipse cx="322" cy="310" rx="1.35" ry="1.55" transform="rotate(25 322 310)"/><ellipse cx="326" cy="309" rx="1.35" ry="1.55" transform="rotate(25 326 309)"/><ellipse cx="325" cy="312" rx="1.35" ry="1.55" transform="rotate(25 325 312)"/><ellipse cx="331" cy="314" rx="1.35" ry="1.55" transform="rotate(25 331 314)"/><ellipse cx="339" cy="312" rx="1.35" ry="1.55" transform="rotate(25 339 312)"/><ellipse cx="347" cy="309" rx="1.35" ry="1.55" transform="rotate(25 347 309)"/><ellipse cx="296" cy="313" rx="1.35" ry="1.55" transform="rotate(25 296 313)"/><ellipse cx="294" cy="317" rx="1.35" ry="1.55" transform="rotate(25 294 317)"/><ellipse cx="309" cy="316" rx="1.35" ry="1.55" transform="rotate(25 309 316)"/><ellipse cx="315" cy="317" rx="1.35" ry="1.55" transform="rotate(25 315 317)"/><ellipse cx="326" cy="317" rx="1.35" ry="1.55" transform="rotate(25 326 317)"/><ellipse cx="334" cy="319" rx="1.35" ry="1.55" transform="rotate(25 334 319)"/><ellipse cx="336" cy="317" rx="1.35" ry="1.55" transform="rotate(25 336 317)"/><ellipse cx="315" cy="322" rx="1.35" ry="1.55" transform="rotate(25 315 322)"/><ellipse cx="292" cy="317" rx="1.35" ry="1.55" transform="rotate(25 292 317)"/><ellipse cx="276" cy="322" rx="1.35" ry="1.55" transform="rotate(25 276 322)"/><ellipse cx="279" cy="324" rx="1.35" ry="1.55" transform="rotate(25 279 324)"/><ellipse cx="261" cy="326" rx="1.35" ry="1.55" transform="rotate(25 261 326)"/><ellipse cx="273" cy="326" rx="1.35" ry="1.55" transform="rotate(25 273 326)"/><ellipse cx="273" cy="330" rx="1.35" ry="1.55" transform="rotate(25 273 330)"/><ellipse cx="260" cy="336" rx="1.35" ry="1.55" transform="rotate(25 260 336)"/><ellipse cx="270" cy="334" rx="1.35" ry="1.55" transform="rotate(25 270 334)"/><ellipse cx="272" cy="338" rx="1.35" ry="1.55" transform="rotate(25 272 338)"/><ellipse cx="279" cy="332" rx="1.35" ry="1.55" transform="rotate(25 279 332)"/><ellipse cx="290" cy="327" rx="1.35" ry="1.55" transform="rotate(25 290 327)"/><ellipse cx="288" cy="327" rx="1.35" ry="1.55" transform="rotate(25 288 327)"/><ellipse cx="290" cy="339" rx="1.35" ry="1.55" transform="rotate(25 290 339)"/><ellipse cx="264" cy="339" rx="1.35" ry="1.55" transform="rotate(25 264 339)"/><ellipse cx="267" cy="340" rx="1.35" ry="1.55" transform="rotate(25 267 340)"/><ellipse cx="279" cy="344" rx="1.35" ry="1.55" transform="rotate(25 279 344)"/><ellipse cx="263" cy="347" rx="1.35" ry="1.55" transform="rotate(25 263 347)"/><ellipse cx="267" cy="346" rx="1.35" ry="1.55" transform="rotate(25 267 346)"/><ellipse cx="276" cy="347" rx="1.35" ry="1.55" transform="rotate(25 276 347)"/><ellipse cx="284" cy="348" rx="1.35" ry="1.55" transform="rotate(25 284 348)"/><ellipse cx="294" cy="346" rx="1.35" ry="1.55" transform="rotate(25 294 346)"/><ellipse cx="271" cy="351" rx="1.35" ry="1.55" transform="rotate(25 271 351)"/><ellipse cx="274" cy="352" rx="1.35" ry="1.55" transform="rotate(25 274 352)"/><ellipse cx="295" cy="354" rx="1.35" ry="1.55" transform="rotate(25 295 354)"/><ellipse cx="261" cy="359" rx="1.35" ry="1.55" transform="rotate(25 261 359)"/><ellipse cx="276" cy="359" rx="1.35" ry="1.55" transform="rotate(25 276 359)"/><ellipse cx="288" cy="360" rx="1.35" ry="1.55" transform="rotate(25 288 360)"/><ellipse cx="293" cy="359" rx="1.35" ry="1.55" transform="rotate(25 293 359)"/><ellipse cx="251" cy="361" rx="1.35" ry="1.55" transform="rotate(25 251 361)"/><ellipse cx="273" cy="362" rx="1.35" ry="1.55" transform="rotate(25 273 362)"/><ellipse cx="314.5" cy="324" rx="1.35" ry="1.55" transform="rotate(25 314.5 324)"/><ellipse cx="316.5" cy="324" rx="1.35" ry="1.55" transform="rotate(25 316.5 324)"/><ellipse cx="321.5" cy="325" rx="1.35" ry="1.55" transform="rotate(25 321.5 325)"/><ellipse cx="326.5" cy="324" rx="1.35" ry="1.55" transform="rotate(25 326.5 324)"/><ellipse cx="332.5" cy="321" rx="1.35" ry="1.55" transform="rotate(25 332.5 321)"/><ellipse cx="335.5" cy="324" rx="1.35" ry="1.55" transform="rotate(25 335.5 324)"/><ellipse cx="338.5" cy="326" rx="1.35" ry="1.55" transform="rotate(25 338.5 326)"/><ellipse cx="342.5" cy="326" rx="1.35" ry="1.55" transform="rotate(25 342.5 326)"/><ellipse cx="305.5" cy="330" rx="1.35" ry="1.55" transform="rotate(25 305.5 330)"/><ellipse cx="311.5" cy="327" rx="1.35" ry="1.55" transform="rotate(25 311.5 327)"/><ellipse cx="323.5" cy="327" rx="1.35" ry="1.55" transform="rotate(25 323.5 327)"/><ellipse cx="329.5" cy="328" rx="1.35" ry="1.55" transform="rotate(25 329.5 328)"/><ellipse cx="294.5" cy="334" rx="1.35" ry="1.55" transform="rotate(25 294.5 334)"/><ellipse cx="314.5" cy="333" rx="1.35" ry="1.55" transform="rotate(25 314.5 333)"/><ellipse cx="315.5" cy="334" rx="1.35" ry="1.55" transform="rotate(25 315.5 334)"/><ellipse cx="320.5" cy="333" rx="1.35" ry="1.55" transform="rotate(25 320.5 333)"/><ellipse cx="339.5" cy="332" rx="1.35" ry="1.55" transform="rotate(25 339.5 332)"/><ellipse cx="344.5" cy="332" rx="1.35" ry="1.55" transform="rotate(25 344.5 332)"/><ellipse cx="295.5" cy="340" rx="1.35" ry="1.55" transform="rotate(25 295.5 340)"/><ellipse cx="303.5" cy="338" rx="1.35" ry="1.55" transform="rotate(25 303.5 338)"/><ellipse cx="314.5" cy="339" rx="1.35" ry="1.55" transform="rotate(25 314.5 339)"/><ellipse cx="318.5" cy="341" rx="1.35" ry="1.55" transform="rotate(25 318.5 341)"/><ellipse cx="328.5" cy="340" rx="1.35" ry="1.55" transform="rotate(25 328.5 340)"/><ellipse cx="292.5" cy="345" rx="1.35" ry="1.55" transform="rotate(25 292.5 345)"/><ellipse cx="310.5" cy="345" rx="1.35" ry="1.55" transform="rotate(25 310.5 345)"/><ellipse cx="315.5" cy="347" rx="1.35" ry="1.55" transform="rotate(25 315.5 347)"/><ellipse cx="320.5" cy="348" rx="1.35" ry="1.55" transform="rotate(25 320.5 348)"/><ellipse cx="323.5" cy="347" rx="1.35" ry="1.55" transform="rotate(25 323.5 347)"/><ellipse cx="331.5" cy="346" rx="1.35" ry="1.55" transform="rotate(25 331.5 346)"/><ellipse cx="336.5" cy="348" rx="1.35" ry="1.55" transform="rotate(25 336.5 348)"/><ellipse cx="300.5" cy="350" rx="1.35" ry="1.55" transform="rotate(25 300.5 350)"/><ellipse cx="308.5" cy="349" rx="1.35" ry="1.55" transform="rotate(25 308.5 349)"/><ellipse cx="309.5" cy="352" rx="1.35" ry="1.55" transform="rotate(25 309.5 352)"/><ellipse cx="323.5" cy="351" rx="1.35" ry="1.55" transform="rotate(25 323.5 351)"/><ellipse cx="295.5" cy="354" rx="1.35" ry="1.55" transform="rotate(25 295.5 354)"/><ellipse cx="293.5" cy="360" rx="1.35" ry="1.55" transform="rotate(25 293.5 360)"/><ellipse cx="294.5" cy="363" rx="1.35" ry="1.55" transform="rotate(25 294.5 363)"/><ellipse cx="321.5" cy="361" rx="1.35" ry="1.55" transform="rotate(25 321.5 361)"/><ellipse cx="335.5" cy="358" rx="1.35" ry="1.55" transform="rotate(25 335.5 358)"/><ellipse cx="342.5" cy="359" rx="1.35" ry="1.55" transform="rotate(25 342.5 359)"/><ellipse cx="322.5" cy="364" rx="1.35" ry="1.55" transform="rotate(25 322.5 364)"/><ellipse cx="329.5" cy="364" rx="1.35" ry="1.55" transform="rotate(25 329.5 364)"/><ellipse cx="378.5" cy="295" rx="1.35" ry="1.55" transform="rotate(25 378.5 295)"/><ellipse cx="375.5" cy="309" rx="1.35" ry="1.55" transform="rotate(25 375.5 309)"/><ellipse cx="389.5" cy="307" rx="1.35" ry="1.55" transform="rotate(25 389.5 307)"/><ellipse cx="388.5" cy="310" rx="1.35" ry="1.55" transform="rotate(25 388.5 310)"/><ellipse cx="355.5" cy="312" rx="1.35" ry="1.55" transform="rotate(25 355.5 312)"/><ellipse cx="360.5" cy="312" rx="1.35" ry="1.55" transform="rotate(25 360.5 312)"/><ellipse cx="376.5" cy="318" rx="1.35" ry="1.55" transform="rotate(25 376.5 318)"/><ellipse cx="367.5" cy="329" rx="1.35" ry="1.55" transform="rotate(25 367.5 329)"/><ellipse cx="362.5" cy="332" rx="1.35" ry="1.55" transform="rotate(25 362.5 332)"/><ellipse cx="366.5" cy="340" rx="1.35" ry="1.55" transform="rotate(25 366.5 340)"/><ellipse cx="397.5" cy="354" rx="1.35" ry="1.55" transform="rotate(25 397.5 354)"/><ellipse cx="400.5" cy="352" rx="1.35" ry="1.55" transform="rotate(25 400.5 352)"/><ellipse cx="370.5" cy="348" rx="1.35" ry="1.55" transform="rotate(25 370.5 348)"/><ellipse cx="369.5" cy="354" rx="1.35" ry="1.55" transform="rotate(25 369.5 354)"/><ellipse cx="355.5" cy="357" rx="1.35" ry="1.55" transform="rotate(25 355.5 357)"/><ellipse cx="450.5" cy="324" rx="1.35" ry="1.55" transform="rotate(25 450.5 324)"/><ellipse cx="454.5" cy="323" rx="1.35" ry="1.55" transform="rotate(25 454.5 323)"/><ellipse cx="445.5" cy="356" rx="1.35" ry="1.55" transform="rotate(25 445.5 356)"/><ellipse cx="436.5" cy="369" rx="1.35" ry="1.55" transform="rotate(25 436.5 369)"/><ellipse cx="358.5" cy="369" rx="1.35" ry="1.55" transform="rotate(25 358.5 369)"/><ellipse cx="368.5" cy="367" rx="1.35" ry="1.55" transform="rotate(25 368.5 367)"/><ellipse cx="370.5" cy="367" rx="1.35" ry="1.55" transform="rotate(25 370.5 367)"/><ellipse cx="380.5" cy="373" rx="1.35" ry="1.55" transform="rotate(25 380.5 373)"/><ellipse cx="380.5" cy="376" rx="1.35" ry="1.55" transform="rotate(25 380.5 376)"/><ellipse cx="373.5" cy="378" rx="1.35" ry="1.55" transform="rotate(25 373.5 378)"/><ellipse cx="385.5" cy="384" rx="1.35" ry="1.55" transform="rotate(25 385.5 384)"/><ellipse cx="393.5" cy="381" rx="1.35" ry="1.55" transform="rotate(25 393.5 381)"/><ellipse cx="419.5" cy="383" rx="1.35" ry="1.55" transform="rotate(25 419.5 383)"/><ellipse cx="346.5" cy="382" rx="1.35" ry="1.55" transform="rotate(25 346.5 382)"/><ellipse cx="346.5" cy="394" rx="1.35" ry="1.55" transform="rotate(25 346.5 394)"/><ellipse cx="362.5" cy="397" rx="1.35" ry="1.55" transform="rotate(25 362.5 397)"/><ellipse cx="361.5" cy="407" rx="1.35" ry="1.55" transform="rotate(25 361.5 407)"/><ellipse cx="346.5" cy="406" rx="1.35" ry="1.55" transform="rotate(25 346.5 406)"/><ellipse cx="351.5" cy="432" rx="1.35" ry="1.55" transform="rotate(25 351.5 432)"/><ellipse cx="396.5" cy="435" rx="1.35" ry="1.55" transform="rotate(25 396.5 435)"/><ellipse cx="305.5" cy="368" rx="1.35" ry="1.55" transform="rotate(25 305.5 368)"/><ellipse cx="315.5" cy="366" rx="1.35" ry="1.55" transform="rotate(25 315.5 366)"/><ellipse cx="317.5" cy="367" rx="1.35" ry="1.55" transform="rotate(25 317.5 367)"/><ellipse cx="320.5" cy="368" rx="1.35" ry="1.55" transform="rotate(25 320.5 368)"/><ellipse cx="326.5" cy="368" rx="1.35" ry="1.55" transform="rotate(25 326.5 368)"/><ellipse cx="296.5" cy="370" rx="1.35" ry="1.55" transform="rotate(25 296.5 370)"/><ellipse cx="295.5" cy="373" rx="1.35" ry="1.55" transform="rotate(25 295.5 373)"/><ellipse cx="320.5" cy="376" rx="1.35" ry="1.55" transform="rotate(25 320.5 376)"/><ellipse cx="342.5" cy="379" rx="1.35" ry="1.55" transform="rotate(25 342.5 379)"/><ellipse cx="291.5" cy="377" rx="1.35" ry="1.55" transform="rotate(25 291.5 377)"/><ellipse cx="297.5" cy="379" rx="1.35" ry="1.55" transform="rotate(25 297.5 379)"/><ellipse cx="303.5" cy="380" rx="1.35" ry="1.55" transform="rotate(25 303.5 380)"/><ellipse cx="311.5" cy="381" rx="1.35" ry="1.55" transform="rotate(25 311.5 381)"/><ellipse cx="314.5" cy="380" rx="1.35" ry="1.55" transform="rotate(25 314.5 380)"/><ellipse cx="317.5" cy="379" rx="1.35" ry="1.55" transform="rotate(25 317.5 379)"/><ellipse cx="302.5" cy="387" rx="1.35" ry="1.55" transform="rotate(25 302.5 387)"/><ellipse cx="314.5" cy="388" rx="1.35" ry="1.55" transform="rotate(25 314.5 388)"/><ellipse cx="326.5" cy="390" rx="1.35" ry="1.55" transform="rotate(25 326.5 390)"/><ellipse cx="339.5" cy="391" rx="1.35" ry="1.55" transform="rotate(25 339.5 391)"/><ellipse cx="341.5" cy="394" rx="1.35" ry="1.55" transform="rotate(25 341.5 394)"/><ellipse cx="295.5" cy="393" rx="1.35" ry="1.55" transform="rotate(25 295.5 393)"/><ellipse cx="308.5" cy="397" rx="1.35" ry="1.55" transform="rotate(25 308.5 397)"/><ellipse cx="307.5" cy="399" rx="1.35" ry="1.55" transform="rotate(25 307.5 399)"/><ellipse cx="293.5" cy="399" rx="1.35" ry="1.55" transform="rotate(25 293.5 399)"/><ellipse cx="332.5" cy="399" rx="1.35" ry="1.55" transform="rotate(25 332.5 399)"/><ellipse cx="323.5" cy="402" rx="1.35" ry="1.55" transform="rotate(25 323.5 402)"/><ellipse cx="294.5" cy="404" rx="1.35" ry="1.55" transform="rotate(25 294.5 404)"/><ellipse cx="338.5" cy="405" rx="1.35" ry="1.55" transform="rotate(25 338.5 405)"/><ellipse cx="345.5" cy="405" rx="1.35" ry="1.55" transform="rotate(25 345.5 405)"/><ellipse cx="247.5" cy="368" rx="1.35" ry="1.55" transform="rotate(25 247.5 368)"/><ellipse cx="263.5" cy="367" rx="1.35" ry="1.55" transform="rotate(25 263.5 367)"/><ellipse cx="263.5" cy="369" rx="1.35" ry="1.55" transform="rotate(25 263.5 369)"/><ellipse cx="279.5" cy="367" rx="1.35" ry="1.55" transform="rotate(25 279.5 367)"/><ellipse cx="280.5" cy="370" rx="1.35" ry="1.55" transform="rotate(25 280.5 370)"/><ellipse cx="277.5" cy="370" rx="1.35" ry="1.55" transform="rotate(25 277.5 370)"/><ellipse cx="284.5" cy="367" rx="1.35" ry="1.55" transform="rotate(25 284.5 367)"/><ellipse cx="250.5" cy="374" rx="1.35" ry="1.55" transform="rotate(25 250.5 374)"/><ellipse cx="253.5" cy="376" rx="1.35" ry="1.55" transform="rotate(25 253.5 376)"/><ellipse cx="265.5" cy="380" rx="1.35" ry="1.55" transform="rotate(25 265.5 380)"/><ellipse cx="268.5" cy="380" rx="1.35" ry="1.55" transform="rotate(25 268.5 380)"/><ellipse cx="278.5" cy="379" rx="1.35" ry="1.55" transform="rotate(25 278.5 379)"/><ellipse cx="291.5" cy="377" rx="1.35" ry="1.55" transform="rotate(25 291.5 377)"/><ellipse cx="288.5" cy="382" rx="1.35" ry="1.55" transform="rotate(25 288.5 382)"/><ellipse cx="259.5" cy="386" rx="1.35" ry="1.55" transform="rotate(25 259.5 386)"/><ellipse cx="270.5" cy="392" rx="1.35" ry="1.55" transform="rotate(25 270.5 392)"/><ellipse cx="267.5" cy="397" rx="1.35" ry="1.55" transform="rotate(25 267.5 397)"/><ellipse cx="283.5" cy="397" rx="1.35" ry="1.55" transform="rotate(25 283.5 397)"/><ellipse cx="292.5" cy="399" rx="1.35" ry="1.55" transform="rotate(25 292.5 399)"/><ellipse cx="239.5" cy="398" rx="1.35" ry="1.55" transform="rotate(25 239.5 398)"/><ellipse cx="254.5" cy="401" rx="1.35" ry="1.55" transform="rotate(25 254.5 401)"/><ellipse cx="286.5" cy="403" rx="1.35" ry="1.55" transform="rotate(25 286.5 403)"/><ellipse cx="259.5" cy="407" rx="1.35" ry="1.55" transform="rotate(25 259.5 407)"/><ellipse cx="278.5" cy="413" rx="1.35" ry="1.55" transform="rotate(25 278.5 413)"/><ellipse cx="294.5" cy="410" rx="1.35" ry="1.55" transform="rotate(25 294.5 410)"/><ellipse cx="283.5" cy="419" rx="1.35" ry="1.55" transform="rotate(25 283.5 419)"/><ellipse cx="283.5" cy="423" rx="1.35" ry="1.55" transform="rotate(25 283.5 423)"/><ellipse cx="265.5" cy="420" rx="1.35" ry="1.55" transform="rotate(25 265.5 420)"/><ellipse cx="254.5" cy="423" rx="1.35" ry="1.55" transform="rotate(25 254.5 423)"/><ellipse cx="246.5" cy="427" rx="1.35" ry="1.55" transform="rotate(25 246.5 427)"/><ellipse cx="274.5" cy="430" rx="1.35" ry="1.55" transform="rotate(25 274.5 430)"/><ellipse cx="269.5" cy="432" rx="1.35" ry="1.55" transform="rotate(25 269.5 432)"/><ellipse cx="286.5" cy="440" rx="1.35" ry="1.55" transform="rotate(25 286.5 440)"/><ellipse cx="262.5" cy="441" rx="1.35" ry="1.55" transform="rotate(25 262.5 441)"/><ellipse cx="269.5" cy="440" rx="1.35" ry="1.55" transform="rotate(25 269.5 440)"/><ellipse cx="275.5" cy="445" rx="1.35" ry="1.55" transform="rotate(25 275.5 445)"/><ellipse cx="235.5" cy="438" rx="1.35" ry="1.55" transform="rotate(25 235.5 438)"/><ellipse cx="301.5" cy="408" rx="1.35" ry="1.55" transform="rotate(25 301.5 408)"/><ellipse cx="294.5" cy="411" rx="1.35" ry="1.55" transform="rotate(25 294.5 411)"/><ellipse cx="301.5" cy="412" rx="1.35" ry="1.55" transform="rotate(25 301.5 412)"/><ellipse cx="302.5" cy="414" rx="1.35" ry="1.55" transform="rotate(25 302.5 414)"/><ellipse cx="305.5" cy="417" rx="1.35" ry="1.55" transform="rotate(25 305.5 417)"/><ellipse cx="338.5" cy="411" rx="1.35" ry="1.55" transform="rotate(25 338.5 411)"/><ellipse cx="329.5" cy="416" rx="1.35" ry="1.55" transform="rotate(25 329.5 416)"/><ellipse cx="306.5" cy="428" rx="1.35" ry="1.55" transform="rotate(25 306.5 428)"/><ellipse cx="341.5" cy="424" rx="1.35" ry="1.55" transform="rotate(25 341.5 424)"/><ellipse cx="308.5" cy="432" rx="1.35" ry="1.55" transform="rotate(25 308.5 432)"/><ellipse cx="314.5" cy="431" rx="1.35" ry="1.55" transform="rotate(25 314.5 431)"/><ellipse cx="331.5" cy="436" rx="1.35" ry="1.55" transform="rotate(25 331.5 436)"/><ellipse cx="347.5" cy="436" rx="1.35" ry="1.55" transform="rotate(25 347.5 436)"/><ellipse cx="321.5" cy="440" rx="1.35" ry="1.55" transform="rotate(25 321.5 440)"/><ellipse cx="293.5" cy="444" rx="1.35" ry="1.55" transform="rotate(25 293.5 444)"/><ellipse cx="228.5" cy="356" rx="1.35" ry="1.55" transform="rotate(25 228.5 356)"/><ellipse cx="233.5" cy="364" rx="1.35" ry="1.55" transform="rotate(25 233.5 364)"/><ellipse cx="215.5" cy="377" rx="1.35" ry="1.55" transform="rotate(25 215.5 377)"/><ellipse cx="220.5" cy="380" rx="1.35" ry="1.55" transform="rotate(25 220.5 380)"/><ellipse cx="174.5" cy="383" rx="1.35" ry="1.55" transform="rotate(25 174.5 383)"/><ellipse cx="141.5" cy="393" rx="1.35" ry="1.55" transform="rotate(25 141.5 393)"/><ellipse cx="182.5" cy="397" rx="1.35" ry="1.55" transform="rotate(25 182.5 397)"/><ellipse cx="219.5" cy="403" rx="1.35" ry="1.55" transform="rotate(25 219.5 403)"/><ellipse cx="229.5" cy="402" rx="1.35" ry="1.55" transform="rotate(25 229.5 402)"/><ellipse cx="221.5" cy="417" rx="1.35" ry="1.55" transform="rotate(25 221.5 417)"/><ellipse cx="223.5" cy="419" rx="1.35" ry="1.55" transform="rotate(25 223.5 419)"/><ellipse cx="175.5" cy="424" rx="1.35" ry="1.55" transform="rotate(25 175.5 424)"/><ellipse cx="106.5" cy="376" rx="1.35" ry="1.55" transform="rotate(25 106.5 376)"/><ellipse cx="174.5" cy="460" rx="1.35" ry="1.55" transform="rotate(25 174.5 460)"/><ellipse cx="167.5" cy="466" rx="1.35" ry="1.55" transform="rotate(25 167.5 466)"/><ellipse cx="162.5" cy="503" rx="1.35" ry="1.55" transform="rotate(25 162.5 503)"/><ellipse cx="213.5" cy="430" rx="1.35" ry="1.55" transform="rotate(25 213.5 430)"/><ellipse cx="227.5" cy="428" rx="1.35" ry="1.55" transform="rotate(25 227.5 428)"/><ellipse cx="233.5" cy="439" rx="1.35" ry="1.55" transform="rotate(25 233.5 439)"/><ellipse cx="236.5" cy="448" rx="1.35" ry="1.55" transform="rotate(25 236.5 448)"/><ellipse cx="194.5" cy="464" rx="1.35" ry="1.55" transform="rotate(25 194.5 464)"/><ellipse cx="200.5" cy="464" rx="1.35" ry="1.55" transform="rotate(25 200.5 464)"/><ellipse cx="201.5" cy="462" rx="1.35" ry="1.55" transform="rotate(25 201.5 462)"/><ellipse cx="245.5" cy="445" rx="1.35" ry="1.55" transform="rotate(25 245.5 445)"/><ellipse cx="236.5" cy="449" rx="1.35" ry="1.55" transform="rotate(25 236.5 449)"/><ellipse cx="270.5" cy="447" rx="1.35" ry="1.55" transform="rotate(25 270.5 447)"/><ellipse cx="286.5" cy="447" rx="1.35" ry="1.55" transform="rotate(25 286.5 447)"/><ellipse cx="256.5" cy="450" rx="1.35" ry="1.55" transform="rotate(25 256.5 450)"/><ellipse cx="248.5" cy="454" rx="1.35" ry="1.55" transform="rotate(25 248.5 454)"/><ellipse cx="252.5" cy="455" rx="1.35" ry="1.55" transform="rotate(25 252.5 455)"/><ellipse cx="287.5" cy="453" rx="1.35" ry="1.55" transform="rotate(25 287.5 453)"/><ellipse cx="290.5" cy="450" rx="1.35" ry="1.55" transform="rotate(25 290.5 450)"/><ellipse cx="295.5" cy="451" rx="1.35" ry="1.55" transform="rotate(25 295.5 451)"/><ellipse cx="306.5" cy="456" rx="1.35" ry="1.55" transform="rotate(25 306.5 456)"/><ellipse cx="287.5" cy="468" rx="1.35" ry="1.55" transform="rotate(25 287.5 468)"/><ellipse cx="293.5" cy="468" rx="1.35" ry="1.55" transform="rotate(25 293.5 468)"/><ellipse cx="236.5" cy="478" rx="1.35" ry="1.55" transform="rotate(25 236.5 478)"/><ellipse cx="268.5" cy="478" rx="1.35" ry="1.55" transform="rotate(25 268.5 478)"/><ellipse cx="263.5" cy="482" rx="1.35" ry="1.55" transform="rotate(25 263.5 482)"/><ellipse cx="281.5" cy="479" rx="1.35" ry="1.55" transform="rotate(25 281.5 479)"/><ellipse cx="279.5" cy="490" rx="1.35" ry="1.55" transform="rotate(25 279.5 490)"/><ellipse cx="239.5" cy="497" rx="1.35" ry="1.55" transform="rotate(25 239.5 497)"/><ellipse cx="288.5" cy="497" rx="1.35" ry="1.55" transform="rotate(25 288.5 497)"/><ellipse cx="373.5" cy="444" rx="1.35" ry="1.55" transform="rotate(25 373.5 444)"/><ellipse cx="366.5" cy="448" rx="1.35" ry="1.55" transform="rotate(25 366.5 448)"/><ellipse cx="337.5" cy="472" rx="1.35" ry="1.55" transform="rotate(25 337.5 472)"/><ellipse cx="355.5" cy="467" rx="1.35" ry="1.55" transform="rotate(25 355.5 467)"/><ellipse cx="364.5" cy="473" rx="1.35" ry="1.55" transform="rotate(25 364.5 473)"/><ellipse cx="417.5" cy="474" rx="1.35" ry="1.55" transform="rotate(25 417.5 474)"/><ellipse cx="196.5" cy="493" rx="1.35" ry="1.55" transform="rotate(25 196.5 493)"/><ellipse cx="233.5" cy="486" rx="1.35" ry="1.55" transform="rotate(25 233.5 486)"/><ellipse cx="269.5" cy="519" rx="1.35" ry="1.55" transform="rotate(25 269.5 519)"/><ellipse cx="281.5" cy="548" rx="1.35" ry="1.55" transform="rotate(25 281.5 548)"/><ellipse cx="286.5" cy="551" rx="1.35" ry="1.55" transform="rotate(25 286.5 551)"/><ellipse cx="316.5" cy="502" rx="1.35" ry="1.55" transform="rotate(25 316.5 502)"/><ellipse cx="306.5" cy="513" rx="1.35" ry="1.55" transform="rotate(25 306.5 513)"/><ellipse cx="312.5" cy="521" rx="1.35" ry="1.55" transform="rotate(25 312.5 521)"/><ellipse cx="385.5" cy="510" rx="1.35" ry="1.55" transform="rotate(25 385.5 510)"/><ellipse cx="375.5" cy="519" rx="1.35" ry="1.55" transform="rotate(25 375.5 519)"/><ellipse cx="299.5" cy="545" rx="1.35" ry="1.55" transform="rotate(25 299.5 545)"/><ellipse cx="337.5" cy="544" rx="1.35" ry="1.55" transform="rotate(25 337.5 544)"/><ellipse cx="405.5" cy="536" rx="1.35" ry="1.55" transform="rotate(25 405.5 536)"/><ellipse cx="270.5" cy="340" rx="1.35" ry="1.55" transform="rotate(25 270.5 340)"/><ellipse cx="277.5" cy="334" rx="1.35" ry="1.55" transform="rotate(25 277.5 334)"/><ellipse cx="259.5" cy="363" rx="1.35" ry="1.55" transform="rotate(25 259.5 363)"/><ellipse cx="275.5" cy="360" rx="1.35" ry="1.55" transform="rotate(25 275.5 360)"/><ellipse cx="286.5" cy="365" rx="1.35" ry="1.55" transform="rotate(25 286.5 365)"/><ellipse cx="299.5" cy="338" rx="1.35" ry="1.55" transform="rotate(25 299.5 338)"/><ellipse cx="298.5" cy="357" rx="1.35" ry="1.55" transform="rotate(25 298.5 357)"/><ellipse cx="280.5" cy="311" rx="1.35" ry="1.55" transform="rotate(25 280.5 311)"/><ellipse cx="287.5" cy="310" rx="1.35" ry="1.55" transform="rotate(25 287.5 310)"/></g>
<path d="M193,96h5v1h-5zM195,94h1v5h-1zM202,102h5v1h-5zM204,100h1v5h-1zM239,101h5v1h-5zM241,99h1v5h-1zM147,179h5v1h-5zM149,177h1v5h-1zM169,192h5v1h-5zM171,190h1v5h-1zM174,189h5v1h-5zM176,187h1v5h-1zM322,140h5v1h-5zM324,138h1v5h-1zM381,208h5v1h-5zM383,206h1v5h-1zM157,231h5v1h-5zM159,229h1v5h-1zM119,254h5v1h-5zM121,252h1v5h-1zM118,267h5v1h-5zM120,265h1v5h-1zM173,285h5v1h-5zM175,283h1v5h-1zM231,219h5v1h-5zM233,217h1v5h-1zM231,231h5v1h-5zM233,229h1v5h-1zM212,243h5v1h-5zM214,241h1v5h-1zM249,237h5v1h-5zM251,235h1v5h-1zM255,240h5v1h-5zM257,238h1v5h-1zM251,250h5v1h-5zM253,248h1v5h-1zM269,261h5v1h-5zM271,259h1v5h-1zM274,259h5v1h-5zM276,257h1v5h-1zM261,265h5v1h-5zM263,263h1v5h-1zM268,270h5v1h-5zM270,268h1v5h-1zM255,275h5v1h-5zM257,273h1v5h-1zM306,221h5v1h-5zM308,219h1v5h-1zM347,224h5v1h-5zM349,222h1v5h-1zM299,238h5v1h-5zM301,236h1v5h-1zM386,239h5v1h-5zM388,237h1v5h-1zM332,245h5v1h-5zM334,243h1v5h-1zM292,252h5v1h-5zM294,250h1v5h-1zM307,256h5v1h-5zM309,254h1v5h-1zM299,260h5v1h-5zM301,258h1v5h-1zM291,277h5v1h-5zM293,275h1v5h-1zM314,276h5v1h-5zM316,274h1v5h-1zM358,277h5v1h-5zM360,275h1v5h-1zM479,272h5v1h-5zM481,270h1v5h-1zM508,303h5v1h-5zM510,301h1v5h-1zM113,301h5v1h-5zM115,299h1v5h-1zM138,303h5v1h-5zM140,301h1v5h-1zM75,325h5v1h-5zM77,323h1v5h-1zM86,325h5v1h-5zM88,323h1v5h-1zM101,324h5v1h-5zM103,322h1v5h-1zM134,335h5v1h-5zM136,333h1v5h-1zM196,284h5v1h-5zM198,282h1v5h-1zM218,285h5v1h-5zM220,283h1v5h-1zM159,301h5v1h-5zM161,299h1v5h-1zM230,298h5v1h-5zM232,296h1v5h-1zM216,304h5v1h-5zM218,302h1v5h-1zM224,310h5v1h-5zM226,308h1v5h-1zM187,313h5v1h-5zM189,311h1v5h-1zM176,315h5v1h-5zM178,313h1v5h-1zM178,314h5v1h-5zM180,312h1v5h-1zM154,324h5v1h-5zM156,322h1v5h-1zM197,325h5v1h-5zM199,323h1v5h-1zM201,325h5v1h-5zM203,323h1v5h-1zM203,322h5v1h-5zM205,320h1v5h-1zM229,327h5v1h-5zM231,325h1v5h-1zM180,341h5v1h-5zM182,339h1v5h-1zM221,345h5v1h-5zM223,343h1v5h-1zM224,352h5v1h-5zM226,350h1v5h-1zM238,283h5v1h-5zM240,281h1v5h-1zM250,283h5v1h-5zM252,281h1v5h-1zM269,283h5v1h-5zM271,281h1v5h-1zM275,283h5v1h-5zM277,281h1v5h-1zM268,286h5v1h-5zM270,284h1v5h-1zM280,287h5v1h-5zM282,285h1v5h-1zM275,289h5v1h-5zM277,287h1v5h-1zM290,287h5v1h-5zM292,285h1v5h-1zM290,292h5v1h-5zM292,290h1v5h-1zM287,294h5v1h-5zM289,292h1v5h-1zM242,298h5v1h-5zM244,296h1v5h-1zM258,295h5v1h-5zM260,293h1v5h-1zM263,295h5v1h-5zM265,293h1v5h-1zM264,299h5v1h-5zM266,297h1v5h-1zM275,297h5v1h-5zM277,295h1v5h-1zM281,301h5v1h-5zM283,299h1v5h-1zM286,301h5v1h-5zM288,299h1v5h-1zM288,302h5v1h-5zM290,300h1v5h-1zM261,308h5v1h-5zM263,306h1v5h-1zM256,311h5v1h-5zM258,309h1v5h-1zM265,312h5v1h-5zM267,310h1v5h-1zM248,317h5v1h-5zM250,315h1v5h-1zM275,312h5v1h-5zM277,310h1v5h-1zM287,311h5v1h-5zM289,309h1v5h-1zM290,313h5v1h-5zM292,311h1v5h-1zM279,319h5v1h-5zM281,317h1v5h-1zM286,316h5v1h-5zM288,314h1v5h-1zM238,320h5v1h-5zM240,318h1v5h-1zM259,320h5v1h-5zM261,318h1v5h-1zM271,320h5v1h-5zM273,318h1v5h-1zM313,279h5v1h-5zM315,277h1v5h-1zM330,281h5v1h-5zM332,279h1v5h-1zM323,283h5v1h-5zM325,281h1v5h-1zM300,281h5v1h-5zM302,279h1v5h-1zM326,287h5v1h-5zM328,285h1v5h-1zM291,288h5v1h-5zM293,286h1v5h-1zM298,286h5v1h-5zM300,284h1v5h-1zM306,290h5v1h-5zM308,288h1v5h-1zM316,290h5v1h-5zM318,288h1v5h-1zM322,293h5v1h-5zM324,291h1v5h-1zM336,294h5v1h-5zM338,292h1v5h-1zM343,295h5v1h-5zM345,293h1v5h-1zM337,297h5v1h-5zM339,295h1v5h-1zM331,299h5v1h-5zM333,297h1v5h-1zM311,295h5v1h-5zM313,293h1v5h-1zM316,295h5v1h-5zM318,293h1v5h-1zM305,297h5v1h-5zM307,295h1v5h-1zM289,302h5v1h-5zM291,300h1v5h-1zM302,304h5v1h-5zM304,302h1v5h-1zM304,303h5v1h-5zM306,301h1v5h-1zM301,308h5v1h-5zM303,306h1v5h-1zM319,305h5v1h-5zM321,303h1v5h-1zM290,309h5v1h-5zM292,307h1v5h-1zM311,311h5v1h-5zM313,309h1v5h-1zM321,313h5v1h-5zM323,311h1v5h-1zM338,315h5v1h-5zM340,313h1v5h-1zM341,311h5v1h-5zM343,309h1v5h-1zM345,311h5v1h-5zM347,309h1v5h-1zM314,315h5v1h-5zM316,313h1v5h-1zM318,317h5v1h-5zM320,315h1v5h-1zM321,320h5v1h-5zM323,318h1v5h-1zM327,320h5v1h-5zM329,318h1v5h-1zM298,321h5v1h-5zM300,319h1v5h-1zM236,321h5v1h-5zM238,319h1v5h-1zM236,325h5v1h-5zM238,323h1v5h-1zM247,324h5v1h-5zM249,322h1v5h-1zM249,326h5v1h-5zM251,324h1v5h-1zM257,330h5v1h-5zM259,328h1v5h-1zM256,332h5v1h-5zM258,330h1v5h-1zM263,332h5v1h-5zM265,330h1v5h-1zM236,333h5v1h-5zM238,331h1v5h-1zM249,334h5v1h-5zM251,332h1v5h-1zM270,338h5v1h-5zM272,336h1v5h-1zM280,330h5v1h-5zM282,328h1v5h-1zM279,333h5v1h-5zM281,331h1v5h-1zM285,333h5v1h-5zM287,331h1v5h-1zM290,324h5v1h-5zM292,322h1v5h-1zM291,329h5v1h-5zM293,327h1v5h-1zM284,337h5v1h-5zM286,335h1v5h-1zM237,340h5v1h-5zM239,338h1v5h-1zM278,342h5v1h-5zM280,340h1v5h-1zM241,345h5v1h-5zM243,343h1v5h-1zM251,344h5v1h-5zM253,342h1v5h-1zM250,347h5v1h-5zM252,345h1v5h-1zM270,344h5v1h-5zM272,342h1v5h-1zM279,346h5v1h-5zM281,344h1v5h-1zM288,348h5v1h-5zM290,346h1v5h-1zM255,350h5v1h-5zM257,348h1v5h-1zM277,352h5v1h-5zM279,350h1v5h-1zM250,353h5v1h-5zM252,351h1v5h-1zM241,354h5v1h-5zM243,352h1v5h-1zM254,355h5v1h-5zM256,353h1v5h-1zM263,354h5v1h-5zM265,352h1v5h-1zM273,355h5v1h-5zM275,353h1v5h-1zM242,357h5v1h-5zM244,355h1v5h-1zM261,359h5v1h-5zM263,357h1v5h-1zM268,358h5v1h-5zM270,356h1v5h-1zM278,360h5v1h-5zM280,358h1v5h-1zM249,360h5v1h-5zM251,358h1v5h-1zM265,361h5v1h-5zM267,359h1v5h-1zM281,362h5v1h-5zM283,360h1v5h-1zM288,362h5v1h-5zM290,360h1v5h-1zM233,363h5v1h-5zM235,361h1v5h-1zM291,323h5v1h-5zM293,321h1v5h-1zM301,324h5v1h-5zM303,322h1v5h-1zM322,321h5v1h-5zM324,319h1v5h-1zM336,326h5v1h-5zM338,324h1v5h-1zM290,327h5v1h-5zM292,325h1v5h-1zM307,328h5v1h-5zM309,326h1v5h-1zM316,327h5v1h-5zM318,325h1v5h-1zM330,328h5v1h-5zM332,326h1v5h-1zM296,332h5v1h-5zM298,330h1v5h-1zM324,331h5v1h-5zM326,329h1v5h-1zM330,333h5v1h-5zM332,331h1v5h-1zM334,333h5v1h-5zM336,331h1v5h-1zM337,334h5v1h-5zM339,332h1v5h-1zM344,336h5v1h-5zM346,334h1v5h-1zM308,334h5v1h-5zM310,332h1v5h-1zM300,341h5v1h-5zM302,339h1v5h-1zM309,338h5v1h-5zM311,336h1v5h-1zM322,338h5v1h-5zM324,336h1v5h-1zM336,341h5v1h-5zM338,339h1v5h-1zM341,341h5v1h-5zM343,339h1v5h-1zM291,346h5v1h-5zM293,344h1v5h-1zM302,346h5v1h-5zM304,344h1v5h-1zM341,348h5v1h-5zM343,346h1v5h-1zM347,347h5v1h-5zM349,345h1v5h-1zM312,349h5v1h-5zM314,347h1v5h-1zM300,354h5v1h-5zM302,352h1v5h-1zM306,354h5v1h-5zM308,352h1v5h-1zM336,355h5v1h-5zM338,353h1v5h-1zM343,355h5v1h-5zM345,353h1v5h-1zM297,359h5v1h-5zM299,357h1v5h-1zM308,359h5v1h-5zM310,357h1v5h-1zM313,358h5v1h-5zM315,356h1v5h-1zM316,360h5v1h-5zM318,358h1v5h-1zM324,358h5v1h-5zM326,356h1v5h-1zM328,360h5v1h-5zM330,358h1v5h-1zM332,360h5v1h-5zM334,358h1v5h-1zM342,359h5v1h-5zM344,357h1v5h-1zM309,363h5v1h-5zM311,361h1v5h-1zM340,363h5v1h-5zM342,361h1v5h-1zM345,311h5v1h-5zM347,309h1v5h-1zM350,318h5v1h-5zM352,316h1v5h-1zM362,316h5v1h-5zM364,314h1v5h-1zM350,334h5v1h-5zM352,332h1v5h-1zM345,336h5v1h-5zM347,334h1v5h-1zM372,340h5v1h-5zM374,338h1v5h-1zM384,344h5v1h-5zM386,342h1v5h-1zM388,345h5v1h-5zM390,343h1v5h-1zM393,349h5v1h-5zM395,347h1v5h-1zM401,356h5v1h-5zM403,354h1v5h-1zM390,358h5v1h-5zM392,356h1v5h-1zM349,345h5v1h-5zM351,343h1v5h-1zM348,348h5v1h-5zM350,346h1v5h-1zM354,352h5v1h-5zM356,350h1v5h-1zM348,360h5v1h-5zM350,358h1v5h-1zM353,361h5v1h-5zM355,359h1v5h-1zM466,327h5v1h-5zM468,325h1v5h-1zM490,327h5v1h-5zM492,325h1v5h-1zM410,341h5v1h-5zM412,339h1v5h-1zM433,343h5v1h-5zM435,341h1v5h-1zM443,350h5v1h-5zM445,348h1v5h-1zM402,356h5v1h-5zM404,354h1v5h-1zM394,373h5v1h-5zM396,371h1v5h-1zM500,370h5v1h-5zM502,368h1v5h-1zM372,381h5v1h-5zM374,379h1v5h-1zM369,384h5v1h-5zM371,382h1v5h-1zM383,380h5v1h-5zM385,378h1v5h-1zM385,378h5v1h-5zM387,376h1v5h-1zM357,380h5v1h-5zM359,378h1v5h-1zM346,381h5v1h-5zM348,379h1v5h-1zM346,385h5v1h-5zM348,383h1v5h-1zM354,386h5v1h-5zM356,384h1v5h-1zM356,391h5v1h-5zM358,389h1v5h-1zM358,392h5v1h-5zM360,390h1v5h-1zM353,395h5v1h-5zM355,393h1v5h-1zM345,394h5v1h-5zM347,392h1v5h-1zM386,394h5v1h-5zM388,392h1v5h-1zM372,402h5v1h-5zM374,400h1v5h-1zM369,404h5v1h-5zM371,402h1v5h-1zM348,404h5v1h-5zM350,402h1v5h-1zM349,407h5v1h-5zM351,405h1v5h-1zM350,411h5v1h-5zM352,409h1v5h-1zM426,404h5v1h-5zM428,402h1v5h-1zM415,409h5v1h-5zM417,407h1v5h-1zM355,433h5v1h-5zM357,431h1v5h-1zM328,369h5v1h-5zM330,367h1v5h-1zM334,365h5v1h-5zM336,363h1v5h-1zM288,369h5v1h-5zM290,367h1v5h-1zM301,370h5v1h-5zM303,368h1v5h-1zM312,371h5v1h-5zM314,369h1v5h-1zM319,373h5v1h-5zM321,371h1v5h-1zM323,374h5v1h-5zM325,372h1v5h-1zM328,375h5v1h-5zM330,373h1v5h-1zM341,375h5v1h-5zM343,373h1v5h-1zM292,381h5v1h-5zM294,379h1v5h-1zM305,381h5v1h-5zM307,379h1v5h-1zM318,381h5v1h-5zM320,379h1v5h-1zM325,380h5v1h-5zM327,378h1v5h-1zM329,381h5v1h-5zM331,379h1v5h-1zM334,382h5v1h-5zM336,380h1v5h-1zM344,381h5v1h-5zM346,379h1v5h-1zM343,384h5v1h-5zM345,382h1v5h-1zM305,387h5v1h-5zM307,385h1v5h-1zM308,386h5v1h-5zM310,384h1v5h-1zM313,385h5v1h-5zM315,383h1v5h-1zM318,387h5v1h-5zM320,385h1v5h-1zM322,386h5v1h-5zM324,384h1v5h-1zM333,389h5v1h-5zM335,387h1v5h-1zM342,391h5v1h-5zM344,389h1v5h-1zM288,388h5v1h-5zM290,386h1v5h-1zM296,396h5v1h-5zM298,394h1v5h-1zM315,393h5v1h-5zM317,391h1v5h-1zM322,394h5v1h-5zM324,392h1v5h-1zM336,395h5v1h-5zM338,393h1v5h-1zM333,398h5v1h-5zM335,396h1v5h-1zM338,399h5v1h-5zM340,397h1v5h-1zM243,366h5v1h-5zM245,364h1v5h-1zM248,366h5v1h-5zM250,364h1v5h-1zM253,367h5v1h-5zM255,365h1v5h-1zM272,367h5v1h-5zM274,365h1v5h-1zM288,369h5v1h-5zM290,367h1v5h-1zM245,372h5v1h-5zM247,370h1v5h-1zM250,371h5v1h-5zM252,369h1v5h-1zM255,373h5v1h-5zM257,371h1v5h-1zM263,370h5v1h-5zM265,368h1v5h-1zM266,373h5v1h-5zM268,371h1v5h-1zM260,376h5v1h-5zM262,374h1v5h-1zM265,380h5v1h-5zM267,378h1v5h-1zM273,378h5v1h-5zM275,376h1v5h-1zM275,375h5v1h-5zM277,373h1v5h-1zM279,378h5v1h-5zM281,376h1v5h-1zM279,380h5v1h-5zM281,378h1v5h-1zM287,374h5v1h-5zM289,372h1v5h-1zM291,381h5v1h-5zM293,379h1v5h-1zM253,379h5v1h-5zM255,377h1v5h-1zM237,384h5v1h-5zM239,382h1v5h-1zM255,385h5v1h-5zM257,383h1v5h-1zM259,385h5v1h-5zM261,383h1v5h-1zM266,385h5v1h-5zM268,383h1v5h-1zM268,385h5v1h-5zM270,383h1v5h-1zM271,386h5v1h-5zM273,384h1v5h-1zM277,385h5v1h-5zM279,383h1v5h-1zM281,388h5v1h-5zM283,386h1v5h-1zM284,387h5v1h-5zM286,385h1v5h-1zM288,388h5v1h-5zM290,386h1v5h-1zM264,390h5v1h-5zM266,388h1v5h-1zM274,390h5v1h-5zM276,388h1v5h-1zM259,393h5v1h-5zM261,391h1v5h-1zM278,393h5v1h-5zM280,391h1v5h-1zM269,396h5v1h-5zM271,394h1v5h-1zM275,396h5v1h-5zM277,394h1v5h-1zM284,398h5v1h-5zM286,396h1v5h-1zM238,395h5v1h-5zM240,393h1v5h-1zM258,399h5v1h-5zM260,397h1v5h-1zM260,400h5v1h-5zM262,398h1v5h-1zM246,403h5v1h-5zM248,401h1v5h-1zM273,402h5v1h-5zM275,400h1v5h-1zM278,402h5v1h-5zM280,400h1v5h-1zM290,402h5v1h-5zM292,400h1v5h-1zM235,413h5v1h-5zM237,411h1v5h-1zM261,411h5v1h-5zM263,409h1v5h-1zM266,412h5v1h-5zM268,410h1v5h-1zM269,413h5v1h-5zM271,411h1v5h-1zM275,408h5v1h-5zM277,406h1v5h-1zM278,411h5v1h-5zM280,409h1v5h-1zM275,414h5v1h-5zM277,412h1v5h-1zM280,407h5v1h-5zM282,405h1v5h-1zM288,412h5v1h-5zM290,410h1v5h-1zM291,418h5v1h-5zM293,416h1v5h-1zM272,420h5v1h-5zM274,418h1v5h-1zM259,420h5v1h-5zM261,418h1v5h-1zM261,422h5v1h-5zM263,420h1v5h-1zM247,422h5v1h-5zM249,420h1v5h-1zM251,422h5v1h-5zM253,420h1v5h-1zM267,426h5v1h-5zM269,424h1v5h-1zM241,427h5v1h-5zM243,425h1v5h-1zM269,432h5v1h-5zM271,430h1v5h-1zM257,433h5v1h-5zM259,431h1v5h-1zM289,432h5v1h-5zM291,430h1v5h-1zM291,426h5v1h-5zM293,424h1v5h-1zM275,437h5v1h-5zM277,435h1v5h-1zM280,436h5v1h-5zM282,434h1v5h-1zM291,436h5v1h-5zM293,434h1v5h-1zM244,443h5v1h-5zM246,441h1v5h-1zM292,407h5v1h-5zM294,405h1v5h-1zM288,412h5v1h-5zM290,410h1v5h-1zM304,412h5v1h-5zM306,410h1v5h-1zM324,411h5v1h-5zM326,409h1v5h-1zM339,411h5v1h-5zM341,409h1v5h-1zM333,417h5v1h-5zM335,415h1v5h-1zM291,418h5v1h-5zM293,416h1v5h-1zM299,421h5v1h-5zM301,419h1v5h-1zM304,424h5v1h-5zM306,422h1v5h-1zM303,426h5v1h-5zM305,424h1v5h-1zM325,423h5v1h-5zM327,421h1v5h-1zM340,424h5v1h-5zM342,422h1v5h-1zM291,426h5v1h-5zM293,424h1v5h-1zM314,429h5v1h-5zM316,427h1v5h-1zM289,432h5v1h-5zM291,430h1v5h-1zM292,436h5v1h-5zM294,434h1v5h-1zM311,436h5v1h-5zM313,434h1v5h-1zM296,441h5v1h-5zM298,439h1v5h-1zM217,359h5v1h-5zM219,357h1v5h-1zM172,366h5v1h-5zM174,364h1v5h-1zM229,371h5v1h-5zM231,369h1v5h-1zM232,371h5v1h-5zM234,369h1v5h-1zM207,375h5v1h-5zM209,373h1v5h-1zM218,387h5v1h-5zM220,385h1v5h-1zM224,390h5v1h-5zM226,388h1v5h-1zM219,395h5v1h-5zM221,393h1v5h-1zM161,402h5v1h-5zM163,400h1v5h-1zM204,401h5v1h-5zM206,399h1v5h-1zM201,406h5v1h-5zM203,404h1v5h-1zM231,399h5v1h-5zM233,397h1v5h-1zM80,427h5v1h-5zM82,425h1v5h-1zM137,451h5v1h-5zM139,449h1v5h-1zM135,488h5v1h-5zM137,486h1v5h-1zM150,492h5v1h-5zM152,490h1v5h-1zM169,491h5v1h-5zM171,489h1v5h-1zM174,425h5v1h-5zM176,423h1v5h-1zM182,426h5v1h-5zM184,424h1v5h-1zM200,426h5v1h-5zM202,424h1v5h-1zM215,430h5v1h-5zM217,428h1v5h-1zM224,443h5v1h-5zM226,441h1v5h-1zM225,456h5v1h-5zM227,454h1v5h-1zM207,473h5v1h-5zM209,471h1v5h-1zM272,447h5v1h-5zM274,445h1v5h-1zM250,450h5v1h-5zM252,448h1v5h-1zM282,452h5v1h-5zM284,450h1v5h-1zM307,450h5v1h-5zM309,448h1v5h-1zM258,459h5v1h-5zM260,457h1v5h-1zM239,465h5v1h-5zM241,463h1v5h-1zM244,464h5v1h-5zM246,462h1v5h-1zM250,470h5v1h-5zM252,468h1v5h-1zM312,467h5v1h-5zM314,465h1v5h-1zM276,472h5v1h-5zM278,470h1v5h-1zM279,472h5v1h-5zM281,470h1v5h-1zM242,478h5v1h-5zM244,476h1v5h-1zM246,479h5v1h-5zM248,477h1v5h-1zM280,484h5v1h-5zM282,482h1v5h-1zM306,489h5v1h-5zM308,487h1v5h-1zM249,491h5v1h-5zM251,489h1v5h-1zM287,496h5v1h-5zM289,494h1v5h-1zM317,447h5v1h-5zM319,445h1v5h-1zM363,441h5v1h-5zM365,439h1v5h-1zM324,455h5v1h-5zM326,453h1v5h-1zM374,455h5v1h-5zM376,453h1v5h-1zM435,452h5v1h-5zM437,450h1v5h-1zM230,493h5v1h-5zM232,491h1v5h-1zM238,548h5v1h-5zM240,546h1v5h-1zM290,502h5v1h-5zM292,500h1v5h-1zM328,503h5v1h-5zM330,501h1v5h-1zM330,515h5v1h-5zM332,513h1v5h-1zM320,523h5v1h-5zM322,521h1v5h-1zM304,525h5v1h-5zM306,523h1v5h-1zM300,548h5v1h-5zM302,546h1v5h-1zM309,554h5v1h-5zM311,552h1v5h-1zM339,545h5v1h-5zM341,543h1v5h-1zM436,505h5v1h-5zM438,503h1v5h-1zM472,452h5v1h-5zM474,450h1v5h-1zM265,352h5v1h-5zM267,350h1v5h-1zM269,360h5v1h-5zM271,358h1v5h-1zM296,340h5v1h-5zM298,338h1v5h-1zM314,339h5v1h-5zM316,337h1v5h-1zM331,338h5v1h-5zM333,336h1v5h-1zM278,381h5v1h-5zM280,379h1v5h-1zM284,390h5v1h-5zM286,388h1v5h-1zM280,395h5v1h-5zM282,393h1v5h-1zM293,385h5v1h-5zM295,383h1v5h-1zM296,387h5v1h-5zM298,385h1v5h-1zM292,393h5v1h-5zM294,391h1v5h-1zM334,392h5v1h-5zM336,390h1v5h-1z" fill="#66ff80" shape-rendering="crispEdges"/>
<circle cx="298.5" cy="314.5" r="251.0" fill="none" stroke="#000" stroke-width="1.3"/>
<polyline points="362.5,154.5 365.5,162.5 358.5,166.5" fill="none" stroke="#fff" stroke-width="1.1"/>
<polyline points="238.5,462.5 241.5,470.5 234.5,474.5" fill="none" stroke="#fff" stroke-width="1.1"/>
<polyline points="300.5,308.5 303.5,316.5 296.5,320.5" fill="none" stroke="#fff" stroke-width="1.1"/>
<text class="m" x="281.3" y="57" font-size="13" font-weight="bold" textLength="35.2" lengthAdjust="spacingAndGlyphs">North</text>
<text class="m" x="15.6" y="318" font-size="13.6" font-weight="bold" textLength="28" lengthAdjust="spacingAndGlyphs">West</text>
<text class="s" x="552.6" y="318" font-size="12.6" font-weight="bold" textLength="27" lengthAdjust="spacingAndGlyphs">East</text>
<text class="s" x="281.3" y="578" font-size="12.6" font-weight="bold" textLength="35" lengthAdjust="spacingAndGlyphs">South</text>
<text class="m" x="399.5" y="18.5" font-size="13.33" font-weight="bold" xml:space="preserve">STATION NAME    YYYY DATE  DDD HHMMSS AXN PPS IGP</text>
<text class="m" x="399.5" y="35.5" font-size="13.33" font-weight="bold" xml:space="preserve">Gakona          2005 Aug14 226 163310 417 200 +8D</text>
<text class="m" x="594.5" y="71" font-size="11.67" xml:space="preserve">Num of Sources          1020</text>
<text class="m" x="594.5" y="85" font-size="11.67" xml:space="preserve">Min Freq, kHz           2600</text>
<text class="m" x="594.5" y="99" font-size="11.67" xml:space="preserve">Max Freq, kHz           3220</text>
<text class="m" x="594.5" y="113" font-size="11.67" xml:space="preserve">Min Range, km            200</text>
<text class="m" x="594.5" y="127" font-size="11.67" xml:space="preserve">Max Range, km            515</text>
<text class="m" x="594.5" y="141" font-size="11.67" xml:space="preserve">Max Amp, dB               75</text>
<text class="m" x="594.5" y="155" font-size="11.67" xml:space="preserve">Max SNR Amp, dB           61</text>
<text class="m" x="594.5" y="169" font-size="11.67" xml:space="preserve">Min SNR Amp, dB            8</text>
<text class="m" x="594.5" y="183" font-size="11.67" xml:space="preserve">Avg SNR Amp, dB           31</text>
<text class="m" x="594.5" y="197" font-size="11.67" xml:space="preserve">Max RMS Err, deg        34.0</text>
<text class="m" x="594.5" y="211" font-size="11.67" xml:space="preserve">Min RMS Err, deg         0.0</text>
<text class="m" x="594.5" y="225" font-size="11.67" xml:space="preserve">Avg RMS Err, deg         8.6</text>
<text class="m" x="594.5" y="239" font-size="11.67" xml:space="preserve">Doppler Res, Hz       0.1953</text>
<text class="m" x="594.5" y="253" font-size="11.67" xml:space="preserve">CIT, sec                5.12</text>
<text class="m" x="594.5" y="267" font-size="11.67" xml:space="preserve">Num of CITs                5</text>
<text class="m" x="594.5" y="281" font-size="11.67" xml:space="preserve">Polarization          O-mode</text>
<text class="m" x="594.5" y="295" font-size="11.67" xml:space="preserve">Center of Sources, deg:     </text>
<text class="m" x="594.5" y="309" font-size="11.67" xml:space="preserve">          Zenith         6.8</text>
<text class="m" x="594.5" y="323" font-size="11.67" xml:space="preserve">          Azimuth        172</text>
<path d="M720.5,319.5 L722.5,320.5 L724,318 L725.5,318.5 L726,320" fill="none" stroke="#333" stroke-width="1"/>
<defs><linearGradient id="cb" x1="0" y1="341" x2="0" y2="583" gradientUnits="userSpaceOnUse">
<stop offset="0" stop-color="rgb(0,0,190)"/>
<stop offset="0.058" stop-color="rgb(0,0,255)"/>
<stop offset="0.347" stop-color="rgb(0,255,255)"/>
<stop offset="0.483" stop-color="rgb(128,255,128)"/>
<stop offset="0.624" stop-color="rgb(255,255,0)"/>
<stop offset="0.926" stop-color="rgb(255,0,0)"/>
<stop offset="1" stop-color="rgb(190,0,0)"/>
</linearGradient></defs>
<rect x="593" y="341" width="15" height="242" fill="url(#cb)"/>
<line x1="608.5" y1="341" x2="608.5" y2="583" stroke="#000" stroke-width="1"/>
<line x1="608" y1="341.5" x2="615" y2="341.5" stroke="#000" stroke-width="1"/>
<line x1="608" y1="345.5" x2="615" y2="345.5" stroke="#000" stroke-width="1"/>
<line x1="608" y1="355.5" x2="615" y2="355.5" stroke="#000" stroke-width="1"/>
<line x1="608" y1="365.5" x2="615" y2="365.5" stroke="#000" stroke-width="1"/>
<line x1="608" y1="374.5" x2="615" y2="374.5" stroke="#000" stroke-width="1"/>
<line x1="608" y1="384.5" x2="615" y2="384.5" stroke="#000" stroke-width="1"/>
<line x1="608" y1="394.5" x2="615" y2="394.5" stroke="#000" stroke-width="1"/>
<line x1="608" y1="403.5" x2="615" y2="403.5" stroke="#000" stroke-width="1"/>
<line x1="608" y1="413.5" x2="615" y2="413.5" stroke="#000" stroke-width="1"/>
<line x1="608" y1="423.5" x2="615" y2="423.5" stroke="#000" stroke-width="1"/>
<line x1="608" y1="432.5" x2="615" y2="432.5" stroke="#000" stroke-width="1"/>
<line x1="608" y1="442.5" x2="615" y2="442.5" stroke="#000" stroke-width="1"/>
<line x1="608" y1="452.5" x2="615" y2="452.5" stroke="#000" stroke-width="1"/>
<line x1="608" y1="461.5" x2="615" y2="461.5" stroke="#000" stroke-width="1"/>
<line x1="608" y1="471.5" x2="615" y2="471.5" stroke="#000" stroke-width="1"/>
<line x1="608" y1="481.5" x2="615" y2="481.5" stroke="#000" stroke-width="1"/>
<line x1="608" y1="491.5" x2="615" y2="491.5" stroke="#000" stroke-width="1"/>
<line x1="608" y1="500.5" x2="615" y2="500.5" stroke="#000" stroke-width="1"/>
<line x1="608" y1="510.5" x2="615" y2="510.5" stroke="#000" stroke-width="1"/>
<line x1="608" y1="520.5" x2="615" y2="520.5" stroke="#000" stroke-width="1"/>
<line x1="608" y1="529.5" x2="615" y2="529.5" stroke="#000" stroke-width="1"/>
<line x1="608" y1="539.5" x2="615" y2="539.5" stroke="#000" stroke-width="1"/>
<line x1="608" y1="549.5" x2="615" y2="549.5" stroke="#000" stroke-width="1"/>
<line x1="608" y1="558.5" x2="615" y2="558.5" stroke="#000" stroke-width="1"/>
<line x1="608" y1="568.5" x2="615" y2="568.5" stroke="#000" stroke-width="1"/>
<line x1="608" y1="578.5" x2="615" y2="578.5" stroke="#000" stroke-width="1"/>
<line x1="608" y1="582.5" x2="615" y2="582.5" stroke="#000" stroke-width="1"/>
<text class="s" x="617.4" y="345.0" font-size="11.3" font-weight="bold" textLength="26.15" lengthAdjust="spacingAndGlyphs">12.5</text>
<text class="s" x="617.4" y="369.0" font-size="11.3" font-weight="bold" textLength="26.15" lengthAdjust="spacingAndGlyphs">10.0</text>
<text class="s" x="617.4" y="388.0" font-size="11.3" font-weight="bold" textLength="18.49" lengthAdjust="spacingAndGlyphs">8.0</text>
<text class="s" x="617.4" y="407.0" font-size="11.3" font-weight="bold" textLength="18.49" lengthAdjust="spacingAndGlyphs">6.0</text>
<text class="s" x="617.4" y="427.0" font-size="11.3" font-weight="bold" textLength="18.49" lengthAdjust="spacingAndGlyphs">4.0</text>
<text class="s" x="617.4" y="446.0" font-size="11.3" font-weight="bold" textLength="18.49" lengthAdjust="spacingAndGlyphs">2.0</text>
<text class="s" x="617.4" y="465.0" font-size="11.3" font-weight="bold" textLength="6.66" lengthAdjust="spacingAndGlyphs">0</text>
<text class="s" x="617.4" y="485.0" font-size="11.3" font-weight="bold" textLength="23.06" lengthAdjust="spacingAndGlyphs">-2.0</text>
<text class="s" x="617.4" y="504.0" font-size="11.3" font-weight="bold" textLength="23.06" lengthAdjust="spacingAndGlyphs">-4.0</text>
<text class="s" x="617.4" y="524.0" font-size="11.3" font-weight="bold" textLength="23.06" lengthAdjust="spacingAndGlyphs">-6.0</text>
<text class="s" x="617.4" y="543.0" font-size="11.3" font-weight="bold" textLength="23.06" lengthAdjust="spacingAndGlyphs">-8.0</text>
<text class="s" x="617.4" y="562.0" font-size="11.3" font-weight="bold" textLength="30.71" lengthAdjust="spacingAndGlyphs">-10.0</text>
<text class="s" x="617.4" y="586.0" font-size="11.3" font-weight="bold" textLength="30.71" lengthAdjust="spacingAndGlyphs">-12.5</text>
<text class="s" font-size="10" font-weight="bold" transform="translate(665.2 493.3) rotate(-90)">Doppler, Hz</text>
<path d="M669,402h7v1h-7zM672,399h1v7h-1z" fill="#0000dd" shape-rendering="crispEdges"/>
<text class="s" x="682.6" y="406" font-size="10" font-weight="bold" fill="#0000dd" textLength="44.8" lengthAdjust="spacingAndGlyphs">Positive</text>
<circle cx="673" cy="523" r="2.5" fill="none" stroke="#ee0000" stroke-width="1.0"/>
<text class="s" x="682.6" y="526" font-size="10" font-weight="bold" fill="#ee0000" textLength="50.8" lengthAdjust="spacingAndGlyphs">Negative</text>
<text class="m" x="12.0" y="572" font-size="13.2" font-style="italic">V</text>
<text class="m" x="19.3" y="576" font-size="10.8">h</text>
<text class="m" x="33.0" y="572" font-size="11.67">=</text>
<text class="m" x="47.0" y="572" font-size="13.2" font-style="italic">1</text>
<text class="m" x="54.0" y="572" font-size="13.2" font-style="italic">7</text>
<text class="m" x="68.0" y="572" font-size="11.67">±</text>
<text class="m" x="82.0" y="572" font-size="13.2" font-style="italic">8</text>
<text class="m" x="96.0" y="572" font-size="11.67">m</text>
<text class="m" x="103.0" y="572" font-size="11.67">/</text>
<text class="m" x="110.0" y="572" font-size="11.67">s</text>
<text class="m" x="467.0" y="572" font-size="13.2" font-style="italic">V</text>
<text class="m" x="474.3" y="576" font-size="10.8">z</text>
<text class="m" x="488.0" y="572" font-size="11.67">=</text>
<text class="m" x="502.0" y="572" font-size="13.2" font-style="italic">-</text>
<text class="m" x="509.0" y="572" font-size="13.2" font-style="italic">1</text>
<text class="m" x="516.0" y="572" font-size="13.2" font-style="italic">4</text>
<text class="m" x="530.0" y="572" font-size="11.67">±</text>
<text class="m" x="544.0" y="572" font-size="13.2" font-style="italic">1</text>
<text class="m" x="558.0" y="572" font-size="11.67">m</text>
<text class="m" x="565.0" y="572" font-size="11.67">/</text>
<text class="m" x="572.0" y="572" font-size="11.67">s</text>
<text class="m" x="12" y="592" font-size="12.4" font-style="italic" textLength="153.5" lengthAdjust="spacingAndGlyphs">Geographic coordinates</text>
<text class="m" x="418.40" y="592" font-size="12.4" font-style="italic">Z</text>
<text class="m" x="425.36" y="592" font-size="12.4" font-style="italic">e</text>
<text class="m" x="432.32" y="592" font-size="12.4" font-style="italic">n</text>
<text class="m" x="439.28" y="592" font-size="12.4" font-style="italic">i</text>
<text class="m" x="446.24" y="592" font-size="12.4" font-style="italic">t</text>
<text class="m" x="453.20" y="592" font-size="12.4" font-style="italic">h</text>
<text class="m" x="460.16" y="592" font-size="12.4" font-style="italic">:</text>
<text class="m" x="474.08" y="592" font-size="12.4" font-style="italic">m</text>
<text class="m" x="481.04" y="592" font-size="12.4" font-style="italic">a</text>
<text class="m" x="488.00" y="592" font-size="12.4" font-style="italic">x</text>
<text class="m" x="501.92" y="592" font-size="12.4" font-style="italic">4</text>
<text class="m" x="508.88" y="592" font-size="12.4" font-style="italic">0</text>
<text class="m" x="514.44" y="592" font-size="12.4" font-style="italic">°</text>
<text class="m" x="534.06" y="592" font-size="12.4" font-style="italic">s</text>
<text class="m" x="541.02" y="592" font-size="12.4" font-style="italic">t</text>
<text class="m" x="547.98" y="592" font-size="12.4" font-style="italic">e</text>
<text class="m" x="554.94" y="592" font-size="12.4" font-style="italic">p</text>
<text class="m" x="568.86" y="592" font-size="12.4" font-style="italic">5</text>
<text class="m" x="574.42" y="592" font-size="12.4" font-style="italic">°</text>
<text class="s" x="654.2" y="593.0" font-size="9.5" textLength="138.3" lengthAdjust="spacingAndGlyphs" xml:space="preserve">ShowSkymap v 1.0   SD v 4.2</text>
<path d="M14.3,42.6 C10.2,33.5 10.6,22.5 18.6,15.8 C24,11.6 31,11 39.4,13.4 C33,12.6 26.5,13.6 21.3,17.6 C15.4,22.5 13.4,32 14.3,42.6 Z" fill="#3399cc"/>
<text class="sf" x="48.8" y="30.7" font-size="10.8" fill="#2b2430" stroke="#2b2430" stroke-width="0.3" textLength="30.6" lengthAdjust="spacingAndGlyphs">Lowell</text>
<text class="s" x="20" y="43.2" font-size="11" fill="#922a5e" stroke="#922a5e" stroke-width="0.35" textLength="59.6" lengthAdjust="spacingAndGlyphs">DIGISONDE</text>
<rect x="0" y="595" width="800" height="5" fill="#fff"/>
<rect x="6.5" y="6.5" width="788" height="588" fill="none" stroke="#000" stroke-width="1"/>
</svg></body></html>
